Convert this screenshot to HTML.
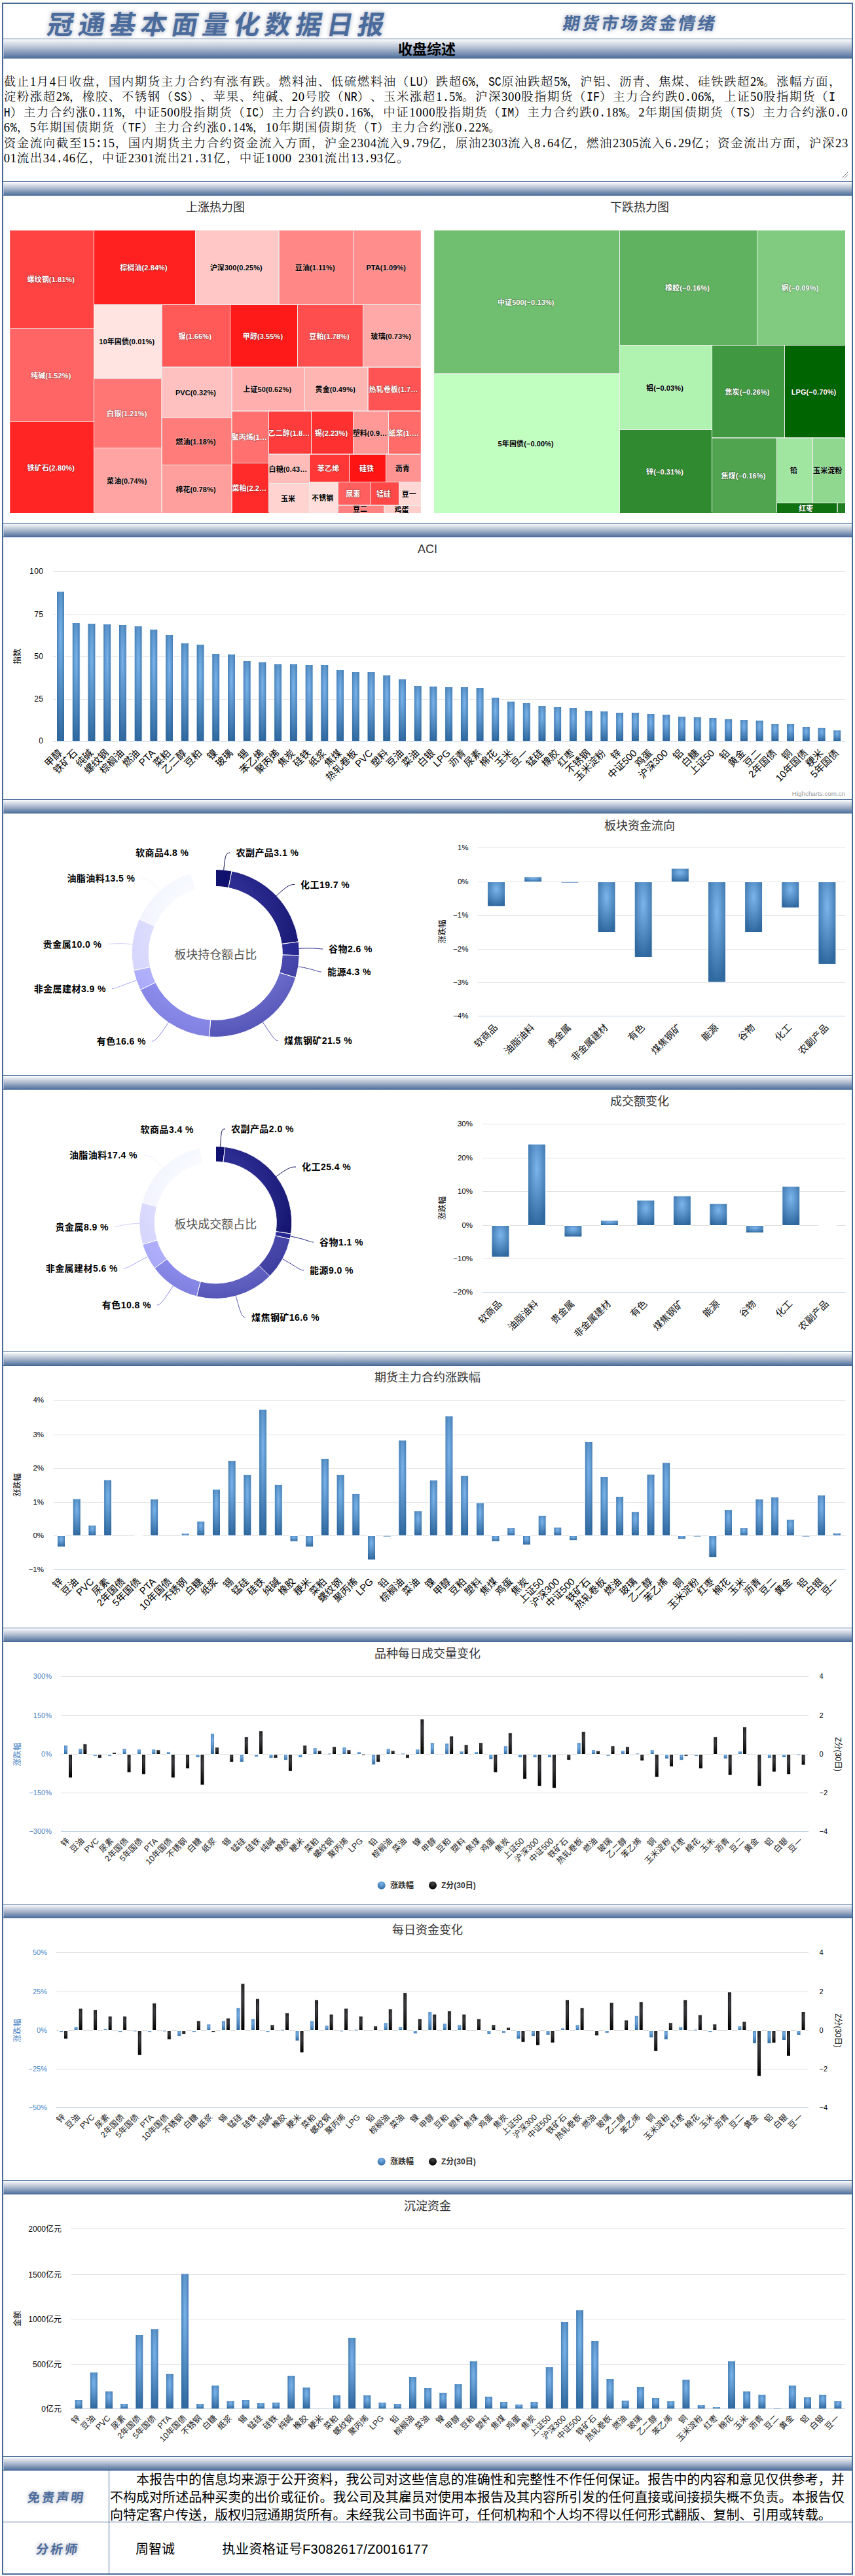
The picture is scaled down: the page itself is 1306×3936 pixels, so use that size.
<!DOCTYPE html>
<html lang="zh-CN"><head><meta charset="utf-8"><title>冠通基本面量化数据日报</title>
<style>
html,body{margin:0;padding:0;background:#fff}
body{width:1306px;height:3936px;position:relative;overflow:hidden;font-family:"Liberation Sans","Noto Sans CJK SC",sans-serif;text-spacing-trim:space-all}
svg{position:absolute;left:0;top:0;font-family:"Liberation Sans","Noto Sans CJK SC",sans-serif}
.t1,.t2,.cal{position:absolute;font-family:"Liberation Sans","Noto Sans CJK SC",sans-serif;font-weight:900;color:#4a6b9c;white-space:nowrap;text-shadow:0 0 5px #b9bfcc,0 0 9px #cfd3dc}
.t1{left:73px;top:11.5px;font-weight:700;height:53px;line-height:53px;font-size:40px;letter-spacing:7.4px;transform:skewX(-10deg)}
.t2{left:860px;top:12.5px;font-weight:700;height:46px;line-height:46px;font-size:26px;letter-spacing:3.4px;transform:skewX(-10deg)}
.h1{position:absolute;left:5px;width:1294px;top:61.5px;height:28px;line-height:28px;text-align:center;font-size:22px;font-weight:bold;color:#000}
.tl{position:absolute;left:5.8px;height:23.5px;line-height:23.5px;font-family:"Liberation Serif","Noto Serif CJK SC",serif;font-size:18.5px;letter-spacing:1.5px;font-weight:300;color:#000;white-space:pre}
.tl .a{font-family:"Liberation Mono",monospace;font-size:16.667px;letter-spacing:0;font-weight:400;display:inline-block;transform:scaleY(1.22);transform-origin:50% 72%}
.tl .d{font-size:18.6px;letter-spacing:0.7px;font-weight:400}
.dl{position:absolute;height:27px;line-height:27px;font-size:20.05px;color:#000;white-space:nowrap}
.cal.c1{left:6px;width:160px;top:3778px;height:78px;line-height:78px;text-align:center;font-size:19px;letter-spacing:3px;font-weight:700;transform:skewX(-8deg)}
.cal.c2{left:8px;width:160px;top:3856.5px;height:78px;line-height:78px;text-align:center;font-size:19px;letter-spacing:3px;font-weight:700;transform:skewX(-8deg)}
.an{position:absolute;top:3855.5px;height:78px;line-height:78px;font-size:20px;color:#000;white-space:nowrap}
.grip{position:absolute;left:1285px;top:262px;width:12px;height:12px}
</style></head><body>
<svg width="1306" height="3936" viewBox="0 0 1306 3936"><defs><linearGradient id="gbar" x1="0" y1="0" x2="0" y2="1"><stop offset="0" stop-color="#f5f6f9"/><stop offset="0.5" stop-color="#a7b5cb"/><stop offset="1" stop-color="#4d6e9b"/></linearGradient><radialGradient id="gblue" cx="0.5" cy="0.3" r="0.7"><stop offset="0" stop-color="#7cb5ec"/><stop offset="1" stop-color="#3069a0"/></radialGradient><radialGradient id="gblack" cx="0.5" cy="0.3" r="0.7"><stop offset="0" stop-color="#434348"/><stop offset="1" stop-color="#000000"/></radialGradient><radialGradient id="p1456_0" gradientUnits="userSpaceOnUse" cx="329.3" cy="1405.3" r="179.2"><stop offset="0.35" stop-color="#111170"/><stop offset="1" stop-color="#04044c"/></radialGradient><radialGradient id="p1456_1" gradientUnits="userSpaceOnUse" cx="329.3" cy="1405.3" r="179.2"><stop offset="0.35" stop-color="#2c2c92"/><stop offset="1" stop-color="#0a0a5e"/></radialGradient><radialGradient id="p1456_2" gradientUnits="userSpaceOnUse" cx="329.3" cy="1405.3" r="179.2"><stop offset="0.35" stop-color="#3a3aa6"/><stop offset="1" stop-color="#1c1c84"/></radialGradient><radialGradient id="p1456_3" gradientUnits="userSpaceOnUse" cx="329.3" cy="1405.3" r="179.2"><stop offset="0.35" stop-color="#5a5ac0"/><stop offset="1" stop-color="#3a3a9c"/></radialGradient><radialGradient id="p1456_4" gradientUnits="userSpaceOnUse" cx="329.3" cy="1405.3" r="179.2"><stop offset="0.35" stop-color="#8888e2"/><stop offset="1" stop-color="#5555b8"/></radialGradient><radialGradient id="p1456_5" gradientUnits="userSpaceOnUse" cx="329.3" cy="1405.3" r="179.2"><stop offset="0.35" stop-color="#a0a0ff"/><stop offset="1" stop-color="#8080e0"/></radialGradient><radialGradient id="p1456_6" gradientUnits="userSpaceOnUse" cx="329.3" cy="1405.3" r="179.2"><stop offset="0.35" stop-color="#c0c0ff"/><stop offset="1" stop-color="#a4a4f8"/></radialGradient><radialGradient id="p1456_7" gradientUnits="userSpaceOnUse" cx="329.3" cy="1405.3" r="179.2"><stop offset="0.35" stop-color="#e2e2ff"/><stop offset="1" stop-color="#d0d0fc"/></radialGradient><radialGradient id="p1456_8" gradientUnits="userSpaceOnUse" cx="329.3" cy="1405.3" r="179.2"><stop offset="0.35" stop-color="#f8faff"/><stop offset="1" stop-color="#ececff"/></radialGradient><radialGradient id="p1456_9" gradientUnits="userSpaceOnUse" cx="329.3" cy="1405.3" r="179.2"><stop offset="0.35" stop-color="#ffffff"/><stop offset="1" stop-color="#ffffff"/></radialGradient><radialGradient id="p1868_0" gradientUnits="userSpaceOnUse" cx="329.3" cy="1821.4" r="163.1"><stop offset="0.35" stop-color="#111170"/><stop offset="1" stop-color="#04044c"/></radialGradient><radialGradient id="p1868_1" gradientUnits="userSpaceOnUse" cx="329.3" cy="1821.4" r="163.1"><stop offset="0.35" stop-color="#2c2c92"/><stop offset="1" stop-color="#0a0a5e"/></radialGradient><radialGradient id="p1868_2" gradientUnits="userSpaceOnUse" cx="329.3" cy="1821.4" r="163.1"><stop offset="0.35" stop-color="#3a3aa6"/><stop offset="1" stop-color="#1c1c84"/></radialGradient><radialGradient id="p1868_3" gradientUnits="userSpaceOnUse" cx="329.3" cy="1821.4" r="163.1"><stop offset="0.35" stop-color="#5a5ac0"/><stop offset="1" stop-color="#3a3a9c"/></radialGradient><radialGradient id="p1868_4" gradientUnits="userSpaceOnUse" cx="329.3" cy="1821.4" r="163.1"><stop offset="0.35" stop-color="#8888e2"/><stop offset="1" stop-color="#5555b8"/></radialGradient><radialGradient id="p1868_5" gradientUnits="userSpaceOnUse" cx="329.3" cy="1821.4" r="163.1"><stop offset="0.35" stop-color="#a0a0ff"/><stop offset="1" stop-color="#8080e0"/></radialGradient><radialGradient id="p1868_6" gradientUnits="userSpaceOnUse" cx="329.3" cy="1821.4" r="163.1"><stop offset="0.35" stop-color="#c0c0ff"/><stop offset="1" stop-color="#a4a4f8"/></radialGradient><radialGradient id="p1868_7" gradientUnits="userSpaceOnUse" cx="329.3" cy="1821.4" r="163.1"><stop offset="0.35" stop-color="#e2e2ff"/><stop offset="1" stop-color="#d0d0fc"/></radialGradient><radialGradient id="p1868_8" gradientUnits="userSpaceOnUse" cx="329.3" cy="1821.4" r="163.1"><stop offset="0.35" stop-color="#f8faff"/><stop offset="1" stop-color="#ececff"/></radialGradient><radialGradient id="p1868_9" gradientUnits="userSpaceOnUse" cx="329.3" cy="1821.4" r="163.1"><stop offset="0.35" stop-color="#ffffff"/><stop offset="1" stop-color="#ffffff"/></radialGradient><clipPath id="tmc1"><rect x="15.5" y="352.5" width="627" height="430.5"/></clipPath><clipPath id="tmc2"><rect x="663.5" y="352.5" width="626.5" height="430.5"/></clipPath></defs>
<rect x="3" y="4" width="1300" height="2" fill="#486a99"/>
<rect x="3" y="3932" width="1300" height="2" fill="#486a99"/>
<rect x="3" y="4" width="2" height="3930" fill="#486a99"/>
<rect x="1301" y="4" width="2" height="3930" fill="#486a99"/>
<rect x="5" y="59" width="1296" height="1" fill="#486a99"/>
<rect x="5.5" y="61" width="1295.5" height="28" fill="url(#gbar)"/>
<rect x="5" y="88.5" width="1296" height="1" fill="#486a99"/>
<rect x="5" y="277" width="1296" height="1" fill="#486a99"/>
<rect x="5.5" y="279" width="1295.5" height="19.5" fill="url(#gbar)"/>
<rect x="5" y="298" width="1296" height="1" fill="#486a99"/>
<rect x="5" y="799" width="1296" height="1" fill="#486a99"/>
<rect x="5.5" y="801" width="1295.5" height="19.5" fill="url(#gbar)"/>
<rect x="5" y="820" width="1296" height="1" fill="#486a99"/>
<rect x="5" y="1221" width="1296" height="1" fill="#486a99"/>
<rect x="5.5" y="1223" width="1295.5" height="19.5" fill="url(#gbar)"/>
<rect x="5" y="1242" width="1296" height="1" fill="#486a99"/>
<rect x="5" y="1643" width="1296" height="1" fill="#486a99"/>
<rect x="5.5" y="1645" width="1295.5" height="19.5" fill="url(#gbar)"/>
<rect x="5" y="1664" width="1296" height="1" fill="#486a99"/>
<rect x="5" y="2065" width="1296" height="1" fill="#486a99"/>
<rect x="5.5" y="2067" width="1295.5" height="19.5" fill="url(#gbar)"/>
<rect x="5" y="2086" width="1296" height="1" fill="#486a99"/>
<rect x="5" y="2487" width="1296" height="1" fill="#486a99"/>
<rect x="5.5" y="2489" width="1295.5" height="19.5" fill="url(#gbar)"/>
<rect x="5" y="2508" width="1296" height="1" fill="#486a99"/>
<rect x="5" y="2909" width="1296" height="1" fill="#486a99"/>
<rect x="5.5" y="2911" width="1295.5" height="19.5" fill="url(#gbar)"/>
<rect x="5" y="2930" width="1296" height="1" fill="#486a99"/>
<rect x="5" y="3331" width="1296" height="1" fill="#486a99"/>
<rect x="5.5" y="3333" width="1295.5" height="19.5" fill="url(#gbar)"/>
<rect x="5" y="3352" width="1296" height="1" fill="#486a99"/>
<rect x="5" y="3753" width="1296" height="1" fill="#486a99"/>
<rect x="5.5" y="3755" width="1295.5" height="19.5" fill="url(#gbar)"/>
<rect x="5" y="3774" width="1296" height="1" fill="#486a99"/>
<rect x="5" y="3853" width="1296" height="1" fill="#486a99"/>
<rect x="166" y="3775" width="1" height="157" fill="#486a99"/>
<text x="329" y="322.5" font-size="18" fill="#333" text-anchor="middle">上涨热力图</text>
<text x="977" y="322.5" font-size="18" fill="#333" text-anchor="middle">下跌热力图</text>
<g shape-rendering="crispEdges"><rect x="15" y="352" width="128.5" height="149.5" fill="#ff4242"/><rect x="15" y="501.5" width="128.5" height="143" fill="#ff6564"/><rect x="15" y="644.5" width="128.5" height="139" fill="#ff2525"/><rect x="143.5" y="352" width="155" height="113.5" fill="#ff201f"/><rect x="298.5" y="352" width="127.5" height="113.5" fill="#ffc7c5"/><rect x="426" y="352" width="113.5" height="113.5" fill="#ff8886"/><rect x="539.5" y="352" width="103.5" height="113.5" fill="#ff8d8c"/><rect x="143.5" y="465.5" width="103.5" height="112.5" fill="#ffe4e1"/><rect x="143.5" y="578" width="103.5" height="106.5" fill="#ff7675"/><rect x="143.5" y="684.5" width="103.5" height="99" fill="#ffa4a2"/><rect x="247" y="465.5" width="104.5" height="95.5" fill="#ff5958"/><rect x="351.5" y="465.5" width="103" height="95.5" fill="#ff1a1a"/><rect x="454.5" y="465.5" width="100" height="95.5" fill="#ff4e4d"/><rect x="554.5" y="465.5" width="88.5" height="95.5" fill="#ffaaa8"/><rect x="247" y="561" width="107" height="77.5" fill="#ffc1bf"/><rect x="247" y="638.5" width="107" height="72" fill="#ff7c7a"/><rect x="247" y="710.5" width="107" height="73" fill="#ff9f9d"/><rect x="354" y="561" width="111.5" height="67" fill="#ffb0ae"/><rect x="465.5" y="561" width="96.5" height="67" fill="#ffb6b3"/><rect x="562" y="561" width="81" height="67" fill="#ff5453"/><rect x="354" y="628" width="56.5" height="79.5" fill="#ff706f"/><rect x="354" y="707.5" width="56.5" height="76" fill="#ff2b2b"/><rect x="410.5" y="628" width="65" height="66" fill="#ff3c3c"/><rect x="475.5" y="628" width="64" height="66" fill="#ff3130"/><rect x="539.5" y="628" width="54" height="66" fill="#ff9997"/><rect x="593.5" y="628" width="49.5" height="66" fill="#ff6b69"/><rect x="410.5" y="694" width="62" height="44.5" fill="#ffbcb9"/><rect x="410.5" y="738.5" width="62" height="45" fill="#ffd3d0"/><rect x="472.5" y="694" width="61" height="42.5" fill="#ff3736"/><rect x="533.5" y="694" width="56" height="42.5" fill="#ff1414"/><rect x="589.5" y="694" width="53.5" height="42.5" fill="#ff9391"/><rect x="472.5" y="736.5" width="43.5" height="47" fill="#ffdedb"/><rect x="516" y="736.5" width="49.5" height="35.5" fill="#ff5f5e"/><rect x="565.5" y="736.5" width="44" height="35.5" fill="#ff4847"/><rect x="609.5" y="736.5" width="33.5" height="36" fill="#ffd8d6"/><rect x="516" y="772" width="71" height="11.5" fill="#ff8280"/><rect x="587" y="772.5" width="56" height="11" fill="#ffcdca"/></g>
<g clip-path="url(#tmc1)" fill="none" stroke="#ececec" stroke-width="1"><rect x="15" y="352" width="128.5" height="149.5"/><rect x="15" y="501.5" width="128.5" height="143"/><rect x="15" y="644.5" width="128.5" height="139"/><rect x="143.5" y="352" width="155" height="113.5"/><rect x="298.5" y="352" width="127.5" height="113.5"/><rect x="426" y="352" width="113.5" height="113.5"/><rect x="539.5" y="352" width="103.5" height="113.5"/><rect x="143.5" y="465.5" width="103.5" height="112.5"/><rect x="143.5" y="578" width="103.5" height="106.5"/><rect x="143.5" y="684.5" width="103.5" height="99"/><rect x="247" y="465.5" width="104.5" height="95.5"/><rect x="351.5" y="465.5" width="103" height="95.5"/><rect x="454.5" y="465.5" width="100" height="95.5"/><rect x="554.5" y="465.5" width="88.5" height="95.5"/><rect x="247" y="561" width="107" height="77.5"/><rect x="247" y="638.5" width="107" height="72"/><rect x="247" y="710.5" width="107" height="73"/><rect x="354" y="561" width="111.5" height="67"/><rect x="465.5" y="561" width="96.5" height="67"/><rect x="562" y="561" width="81" height="67"/><rect x="354" y="628" width="56.5" height="79.5"/><rect x="354" y="707.5" width="56.5" height="76"/><rect x="410.5" y="628" width="65" height="66"/><rect x="475.5" y="628" width="64" height="66"/><rect x="539.5" y="628" width="54" height="66"/><rect x="593.5" y="628" width="49.5" height="66"/><rect x="410.5" y="694" width="62" height="44.5"/><rect x="410.5" y="738.5" width="62" height="45"/><rect x="472.5" y="694" width="61" height="42.5"/><rect x="533.5" y="694" width="56" height="42.5"/><rect x="589.5" y="694" width="53.5" height="42.5"/><rect x="472.5" y="736.5" width="43.5" height="47"/><rect x="516" y="736.5" width="49.5" height="35.5"/><rect x="565.5" y="736.5" width="44" height="35.5"/><rect x="609.5" y="736.5" width="33.5" height="36"/><rect x="516" y="772" width="71" height="11.5"/><rect x="587" y="772.5" width="56" height="11"/></g>
<text x="77.75" y="431.45" font-size="11" fill="#fff" text-anchor="middle" font-weight="bold" stroke="#000" stroke-opacity="0.3" stroke-width="1.4" paint-order="stroke" stroke-linejoin="round" letter-spacing="0.1">螺纹钢(1.81%)</text>
<text x="77.75" y="577.7" font-size="11" fill="#fff" text-anchor="middle" font-weight="bold" stroke="#000" stroke-opacity="0.3" stroke-width="1.4" paint-order="stroke" stroke-linejoin="round" letter-spacing="0.1">纯碱(1.52%)</text>
<text x="77.75" y="718.7" font-size="11" fill="#fff" text-anchor="middle" font-weight="bold" stroke="#000" stroke-opacity="0.3" stroke-width="1.4" paint-order="stroke" stroke-linejoin="round" letter-spacing="0.1">铁矿石(2.80%)</text>
<text x="219.5" y="413.45" font-size="11" fill="#fff" text-anchor="middle" font-weight="bold" stroke="#000" stroke-opacity="0.3" stroke-width="1.4" paint-order="stroke" stroke-linejoin="round" letter-spacing="0.1">棕榈油(2.84%)</text>
<text x="360.75" y="413.45" font-size="11" fill="#000" text-anchor="middle" font-weight="bold" stroke="#fff" stroke-opacity="0.3" stroke-width="1.4" paint-order="stroke" stroke-linejoin="round" letter-spacing="0.1">沪深300(0.25%)</text>
<text x="481.25" y="413.45" font-size="11" fill="#000" text-anchor="middle" font-weight="bold" stroke="#fff" stroke-opacity="0.3" stroke-width="1.4" paint-order="stroke" stroke-linejoin="round" letter-spacing="0.1">豆油(1.11%)</text>
<text x="589.75" y="413.45" font-size="11" fill="#000" text-anchor="middle" font-weight="bold" stroke="#fff" stroke-opacity="0.3" stroke-width="1.4" paint-order="stroke" stroke-linejoin="round" letter-spacing="0.1">PTA(1.09%)</text>
<text x="193.75" y="526.45" font-size="11" fill="#000" text-anchor="middle" font-weight="bold" stroke="#fff" stroke-opacity="0.3" stroke-width="1.4" paint-order="stroke" stroke-linejoin="round" letter-spacing="0.1">10年国债(0.01%)</text>
<text x="193.75" y="635.95" font-size="11" fill="#fff" text-anchor="middle" font-weight="bold" stroke="#000" stroke-opacity="0.3" stroke-width="1.4" paint-order="stroke" stroke-linejoin="round" letter-spacing="0.1">白银(1.21%)</text>
<text x="193.75" y="738.7" font-size="11" fill="#000" text-anchor="middle" font-weight="bold" stroke="#fff" stroke-opacity="0.3" stroke-width="1.4" paint-order="stroke" stroke-linejoin="round" letter-spacing="0.1">菜油(0.74%)</text>
<text x="297.75" y="517.95" font-size="11" fill="#fff" text-anchor="middle" font-weight="bold" stroke="#000" stroke-opacity="0.3" stroke-width="1.4" paint-order="stroke" stroke-linejoin="round" letter-spacing="0.1">镍(1.66%)</text>
<text x="401.5" y="517.95" font-size="11" fill="#fff" text-anchor="middle" font-weight="bold" stroke="#000" stroke-opacity="0.3" stroke-width="1.4" paint-order="stroke" stroke-linejoin="round" letter-spacing="0.1">甲醇(3.55%)</text>
<text x="503" y="517.95" font-size="11" fill="#fff" text-anchor="middle" font-weight="bold" stroke="#000" stroke-opacity="0.3" stroke-width="1.4" paint-order="stroke" stroke-linejoin="round" letter-spacing="0.1">豆粕(1.78%)</text>
<text x="597.25" y="517.95" font-size="11" fill="#000" text-anchor="middle" font-weight="bold" stroke="#fff" stroke-opacity="0.3" stroke-width="1.4" paint-order="stroke" stroke-linejoin="round" letter-spacing="0.1">玻璃(0.73%)</text>
<text x="299" y="604.45" font-size="11" fill="#000" text-anchor="middle" font-weight="bold" stroke="#fff" stroke-opacity="0.3" stroke-width="1.4" paint-order="stroke" stroke-linejoin="round" letter-spacing="0.1">PVC(0.32%)</text>
<text x="299" y="679.2" font-size="11" fill="#000" text-anchor="middle" font-weight="bold" stroke="#fff" stroke-opacity="0.3" stroke-width="1.4" paint-order="stroke" stroke-linejoin="round" letter-spacing="0.1">燃油(1.18%)</text>
<text x="299" y="751.7" font-size="11" fill="#000" text-anchor="middle" font-weight="bold" stroke="#fff" stroke-opacity="0.3" stroke-width="1.4" paint-order="stroke" stroke-linejoin="round" letter-spacing="0.1">棉花(0.78%)</text>
<text x="408.25" y="599.2" font-size="11" fill="#000" text-anchor="middle" font-weight="bold" stroke="#fff" stroke-opacity="0.3" stroke-width="1.4" paint-order="stroke" stroke-linejoin="round" letter-spacing="0.1">上证50(0.62%)</text>
<text x="512.25" y="599.2" font-size="11" fill="#000" text-anchor="middle" font-weight="bold" stroke="#fff" stroke-opacity="0.3" stroke-width="1.4" paint-order="stroke" stroke-linejoin="round" letter-spacing="0.1">黄金(0.49%)</text>
<text x="601" y="599.2" font-size="11" fill="#fff" text-anchor="middle" font-weight="bold" stroke="#000" stroke-opacity="0.3" stroke-width="1.4" paint-order="stroke" stroke-linejoin="round" letter-spacing="0.1">热轧卷板(1.7…</text>
<text x="380.75" y="672.45" font-size="11" fill="#fff" text-anchor="middle" font-weight="bold" stroke="#000" stroke-opacity="0.3" stroke-width="1.4" paint-order="stroke" stroke-linejoin="round" letter-spacing="0.1">聚丙烯(1…</text>
<text x="380.75" y="750.2" font-size="11" fill="#fff" text-anchor="middle" font-weight="bold" stroke="#000" stroke-opacity="0.3" stroke-width="1.4" paint-order="stroke" stroke-linejoin="round" letter-spacing="0.1">菜粕(2.2…</text>
<text x="441.5" y="665.7" font-size="11" fill="#fff" text-anchor="middle" font-weight="bold" stroke="#000" stroke-opacity="0.3" stroke-width="1.4" paint-order="stroke" stroke-linejoin="round" letter-spacing="0.1">乙二醇(1.8…</text>
<text x="506" y="665.7" font-size="11" fill="#fff" text-anchor="middle" font-weight="bold" stroke="#000" stroke-opacity="0.3" stroke-width="1.4" paint-order="stroke" stroke-linejoin="round" letter-spacing="0.1">锡(2.23%)</text>
<text x="565" y="665.7" font-size="11" fill="#000" text-anchor="middle" font-weight="bold" stroke="#fff" stroke-opacity="0.3" stroke-width="1.4" paint-order="stroke" stroke-linejoin="round" letter-spacing="0.1">塑料(0.9…</text>
<text x="616.75" y="665.7" font-size="11" fill="#fff" text-anchor="middle" font-weight="bold" stroke="#000" stroke-opacity="0.3" stroke-width="1.4" paint-order="stroke" stroke-linejoin="round" letter-spacing="0.1">纸浆(1.…</text>
<text x="440" y="720.95" font-size="11" fill="#000" text-anchor="middle" font-weight="bold" stroke="#fff" stroke-opacity="0.3" stroke-width="1.4" paint-order="stroke" stroke-linejoin="round" letter-spacing="0.1">白糖(0.43…</text>
<text x="440" y="765.7" font-size="11" fill="#000" text-anchor="middle" font-weight="bold" stroke="#fff" stroke-opacity="0.3" stroke-width="1.4" paint-order="stroke" stroke-linejoin="round" letter-spacing="0.1">玉米</text>
<text x="501.5" y="719.95" font-size="11" fill="#fff" text-anchor="middle" font-weight="bold" stroke="#000" stroke-opacity="0.3" stroke-width="1.4" paint-order="stroke" stroke-linejoin="round" letter-spacing="0.1">苯乙烯</text>
<text x="560" y="719.95" font-size="11" fill="#fff" text-anchor="middle" font-weight="bold" stroke="#000" stroke-opacity="0.3" stroke-width="1.4" paint-order="stroke" stroke-linejoin="round" letter-spacing="0.1">硅铁</text>
<text x="614.75" y="719.95" font-size="11" fill="#000" text-anchor="middle" font-weight="bold" stroke="#fff" stroke-opacity="0.3" stroke-width="1.4" paint-order="stroke" stroke-linejoin="round" letter-spacing="0.1">沥青</text>
<text x="492.75" y="764.7" font-size="11" fill="#000" text-anchor="middle" font-weight="bold" stroke="#fff" stroke-opacity="0.3" stroke-width="1.4" paint-order="stroke" stroke-linejoin="round" letter-spacing="0.1">不锈钢</text>
<text x="539.25" y="758.95" font-size="11" fill="#fff" text-anchor="middle" font-weight="bold" stroke="#000" stroke-opacity="0.3" stroke-width="1.4" paint-order="stroke" stroke-linejoin="round" letter-spacing="0.1">尿素</text>
<text x="586" y="758.95" font-size="11" fill="#fff" text-anchor="middle" font-weight="bold" stroke="#000" stroke-opacity="0.3" stroke-width="1.4" paint-order="stroke" stroke-linejoin="round" letter-spacing="0.1">锰硅</text>
<text x="624.75" y="759.2" font-size="11" fill="#000" text-anchor="middle" font-weight="bold" stroke="#fff" stroke-opacity="0.3" stroke-width="1.4" paint-order="stroke" stroke-linejoin="round" letter-spacing="0.1">豆一</text>
<text x="550" y="782.45" font-size="11" fill="#000" text-anchor="middle" font-weight="bold" stroke="#fff" stroke-opacity="0.3" stroke-width="1.4" paint-order="stroke" stroke-linejoin="round" letter-spacing="0.1">豆二</text>
<text x="613.5" y="782.7" font-size="11" fill="#000" text-anchor="middle" font-weight="bold" stroke="#fff" stroke-opacity="0.3" stroke-width="1.4" paint-order="stroke" stroke-linejoin="round" letter-spacing="0.1">鸡蛋</text>
<g shape-rendering="crispEdges"><rect x="663" y="352" width="283.5" height="219" fill="#70be70"/><rect x="663" y="571" width="283.5" height="212.5" fill="#c0ffc0"/><rect x="946.5" y="352" width="210" height="175.5" fill="#60b160"/><rect x="1156.5" y="352" width="134" height="175.5" fill="#80cb80"/><rect x="946.5" y="527.5" width="141" height="129" fill="#b0f2b0"/><rect x="946.5" y="656.5" width="141" height="127" fill="#308b30"/><rect x="1087.5" y="527.5" width="111" height="141.5" fill="#409840"/><rect x="1198.5" y="527.5" width="92" height="141.5" fill="#006400"/><rect x="1087.5" y="669" width="99" height="114.5" fill="#50a450"/><rect x="1186.5" y="669" width="54.5" height="99.5" fill="#a0e5a0"/><rect x="1241" y="669" width="49.5" height="99.5" fill="#90d890"/><rect x="1186.5" y="768.5" width="92.5" height="15" fill="#107110"/><rect x="1279" y="768.5" width="11.5" height="15" fill="#207e20"/></g>
<g clip-path="url(#tmc2)" fill="none" stroke="#ececec" stroke-width="1"><rect x="663" y="352" width="283.5" height="219"/><rect x="663" y="571" width="283.5" height="212.5"/><rect x="946.5" y="352" width="210" height="175.5"/><rect x="1156.5" y="352" width="134" height="175.5"/><rect x="946.5" y="527.5" width="141" height="129"/><rect x="946.5" y="656.5" width="141" height="127"/><rect x="1087.5" y="527.5" width="111" height="141.5"/><rect x="1198.5" y="527.5" width="92" height="141.5"/><rect x="1087.5" y="669" width="99" height="114.5"/><rect x="1186.5" y="669" width="54.5" height="99.5"/><rect x="1241" y="669" width="49.5" height="99.5"/><rect x="1186.5" y="768.5" width="92.5" height="15"/><rect x="1279" y="768.5" width="11.5" height="15"/></g>
<text x="803.25" y="466.2" font-size="11" fill="#fff" text-anchor="middle" font-weight="bold" stroke="#000" stroke-opacity="0.3" stroke-width="1.4" paint-order="stroke" stroke-linejoin="round" letter-spacing="0.1">中证500(−0.13%)</text>
<text x="803.25" y="681.95" font-size="11" fill="#000" text-anchor="middle" font-weight="bold" stroke="#fff" stroke-opacity="0.3" stroke-width="1.4" paint-order="stroke" stroke-linejoin="round" letter-spacing="0.1">5年国债(−0.00%)</text>
<text x="1050" y="444.45" font-size="11" fill="#fff" text-anchor="middle" font-weight="bold" stroke="#000" stroke-opacity="0.3" stroke-width="1.4" paint-order="stroke" stroke-linejoin="round" letter-spacing="0.1">橡胶(−0.16%)</text>
<text x="1222" y="444.45" font-size="11" fill="#fff" text-anchor="middle" font-weight="bold" stroke="#000" stroke-opacity="0.3" stroke-width="1.4" paint-order="stroke" stroke-linejoin="round" letter-spacing="0.1">铜(−0.09%)</text>
<text x="1015.5" y="596.7" font-size="11" fill="#000" text-anchor="middle" font-weight="bold" stroke="#fff" stroke-opacity="0.3" stroke-width="1.4" paint-order="stroke" stroke-linejoin="round" letter-spacing="0.1">铝(−0.03%)</text>
<text x="1015.5" y="724.7" font-size="11" fill="#fff" text-anchor="middle" font-weight="bold" stroke="#000" stroke-opacity="0.3" stroke-width="1.4" paint-order="stroke" stroke-linejoin="round" letter-spacing="0.1">锌(−0.31%)</text>
<text x="1141.5" y="602.95" font-size="11" fill="#fff" text-anchor="middle" font-weight="bold" stroke="#000" stroke-opacity="0.3" stroke-width="1.4" paint-order="stroke" stroke-linejoin="round" letter-spacing="0.1">焦炭(−0.26%)</text>
<text x="1243" y="602.95" font-size="11" fill="#fff" text-anchor="middle" font-weight="bold" stroke="#000" stroke-opacity="0.3" stroke-width="1.4" paint-order="stroke" stroke-linejoin="round" letter-spacing="0.1">LPG(−0.70%)</text>
<text x="1135.5" y="730.95" font-size="11" fill="#fff" text-anchor="middle" font-weight="bold" stroke="#000" stroke-opacity="0.3" stroke-width="1.4" paint-order="stroke" stroke-linejoin="round" letter-spacing="0.1">焦煤(−0.16%)</text>
<text x="1212.25" y="723.45" font-size="11" fill="#000" text-anchor="middle" font-weight="bold" stroke="#fff" stroke-opacity="0.3" stroke-width="1.4" paint-order="stroke" stroke-linejoin="round" letter-spacing="0.1">铅</text>
<text x="1264.25" y="723.45" font-size="11" fill="#000" text-anchor="middle" font-weight="bold" stroke="#fff" stroke-opacity="0.3" stroke-width="1.4" paint-order="stroke" stroke-linejoin="round" letter-spacing="0.1">玉米淀粉</text>
<text x="1231.25" y="780.7" font-size="11" fill="#fff" text-anchor="middle" font-weight="bold" stroke="#000" stroke-opacity="0.3" stroke-width="1.4" paint-order="stroke" stroke-linejoin="round" letter-spacing="0.1">红枣</text>
<text x="653" y="845" font-size="18" fill="#333" text-anchor="middle">ACI</text>
<path d="M80.5 873.5H1291.5" stroke="#e0e0e0" stroke-width="1" fill="none"/>
<path d="M80.5 939.5H1291.5" stroke="#e0e0e0" stroke-width="1" fill="none"/>
<path d="M80.5 1003.5H1291.5" stroke="#e0e0e0" stroke-width="1" fill="none"/>
<path d="M80.5 1068.5H1291.5" stroke="#e0e0e0" stroke-width="1" fill="none"/>
<text x="66.5" y="877" font-size="12" fill="#000" text-anchor="end" letter-spacing="0.5">100</text>
<text x="66.5" y="943" font-size="12" fill="#000" text-anchor="end" letter-spacing="0.5">75</text>
<text x="66.5" y="1007" font-size="12" fill="#000" text-anchor="end" letter-spacing="0.5">50</text>
<text x="66.5" y="1072" font-size="12" fill="#000" text-anchor="end" letter-spacing="0.5">25</text>
<text x="66.5" y="1136" font-size="12" fill="#000" text-anchor="end" letter-spacing="0.5">0</text>
<text x="31" y="1003" font-size="12" fill="#000" text-anchor="middle" transform="rotate(-90 31 1003)">指数</text>
<rect x="86.5" y="903.5" width="12" height="229" fill="url(#gblue)" stroke="#fff" stroke-width="1"/>
<rect x="110.23" y="951.5" width="12" height="181" fill="url(#gblue)" stroke="#fff" stroke-width="1"/>
<rect x="133.95" y="952.5" width="12" height="180" fill="url(#gblue)" stroke="#fff" stroke-width="1"/>
<rect x="157.68" y="953.5" width="12" height="179" fill="url(#gblue)" stroke="#fff" stroke-width="1"/>
<rect x="181.4" y="954.5" width="12" height="178" fill="url(#gblue)" stroke="#fff" stroke-width="1"/>
<rect x="205.13" y="956.5" width="12" height="176" fill="url(#gblue)" stroke="#fff" stroke-width="1"/>
<rect x="228.85" y="961.5" width="12" height="171" fill="url(#gblue)" stroke="#fff" stroke-width="1"/>
<rect x="252.58" y="969.5" width="12" height="163" fill="url(#gblue)" stroke="#fff" stroke-width="1"/>
<rect x="276.3" y="982.5" width="12" height="150" fill="url(#gblue)" stroke="#fff" stroke-width="1"/>
<rect x="300.03" y="984.5" width="12" height="148" fill="url(#gblue)" stroke="#fff" stroke-width="1"/>
<rect x="323.75" y="998.5" width="12" height="134" fill="url(#gblue)" stroke="#fff" stroke-width="1"/>
<rect x="347.48" y="999.5" width="12" height="133" fill="url(#gblue)" stroke="#fff" stroke-width="1"/>
<rect x="371.2" y="1009.5" width="12" height="123" fill="url(#gblue)" stroke="#fff" stroke-width="1"/>
<rect x="394.93" y="1011.5" width="12" height="121" fill="url(#gblue)" stroke="#fff" stroke-width="1"/>
<rect x="418.65" y="1014.5" width="12" height="118" fill="url(#gblue)" stroke="#fff" stroke-width="1"/>
<rect x="442.38" y="1014.5" width="12" height="118" fill="url(#gblue)" stroke="#fff" stroke-width="1"/>
<rect x="466.1" y="1015.5" width="12" height="117" fill="url(#gblue)" stroke="#fff" stroke-width="1"/>
<rect x="489.83" y="1015.5" width="12" height="117" fill="url(#gblue)" stroke="#fff" stroke-width="1"/>
<rect x="513.55" y="1023.5" width="12" height="109" fill="url(#gblue)" stroke="#fff" stroke-width="1"/>
<rect x="537.28" y="1026.5" width="12" height="106" fill="url(#gblue)" stroke="#fff" stroke-width="1"/>
<rect x="561" y="1026.5" width="12" height="106" fill="url(#gblue)" stroke="#fff" stroke-width="1"/>
<rect x="584.73" y="1031.5" width="12" height="101" fill="url(#gblue)" stroke="#fff" stroke-width="1"/>
<rect x="608.45" y="1037.5" width="12" height="95" fill="url(#gblue)" stroke="#fff" stroke-width="1"/>
<rect x="632.18" y="1047.5" width="12" height="85" fill="url(#gblue)" stroke="#fff" stroke-width="1"/>
<rect x="655.9" y="1048.5" width="12" height="84" fill="url(#gblue)" stroke="#fff" stroke-width="1"/>
<rect x="679.63" y="1049.5" width="12" height="83" fill="url(#gblue)" stroke="#fff" stroke-width="1"/>
<rect x="703.35" y="1049.5" width="12" height="83" fill="url(#gblue)" stroke="#fff" stroke-width="1"/>
<rect x="727.08" y="1050.5" width="12" height="82" fill="url(#gblue)" stroke="#fff" stroke-width="1"/>
<rect x="750.8" y="1065.5" width="12" height="67" fill="url(#gblue)" stroke="#fff" stroke-width="1"/>
<rect x="774.53" y="1071.5" width="12" height="61" fill="url(#gblue)" stroke="#fff" stroke-width="1"/>
<rect x="798.25" y="1073.5" width="12" height="59" fill="url(#gblue)" stroke="#fff" stroke-width="1"/>
<rect x="821.98" y="1078.5" width="12" height="54" fill="url(#gblue)" stroke="#fff" stroke-width="1"/>
<rect x="845.7" y="1079.5" width="12" height="53" fill="url(#gblue)" stroke="#fff" stroke-width="1"/>
<rect x="869.43" y="1081.5" width="12" height="51" fill="url(#gblue)" stroke="#fff" stroke-width="1"/>
<rect x="893.15" y="1085.5" width="12" height="47" fill="url(#gblue)" stroke="#fff" stroke-width="1"/>
<rect x="916.88" y="1086.5" width="12" height="46" fill="url(#gblue)" stroke="#fff" stroke-width="1"/>
<rect x="940.6" y="1088.5" width="12" height="44" fill="url(#gblue)" stroke="#fff" stroke-width="1"/>
<rect x="964.33" y="1088.5" width="12" height="44" fill="url(#gblue)" stroke="#fff" stroke-width="1"/>
<rect x="988.05" y="1090.5" width="12" height="42" fill="url(#gblue)" stroke="#fff" stroke-width="1"/>
<rect x="1011.78" y="1091.5" width="12" height="41" fill="url(#gblue)" stroke="#fff" stroke-width="1"/>
<rect x="1035.5" y="1094.5" width="12" height="38" fill="url(#gblue)" stroke="#fff" stroke-width="1"/>
<rect x="1059.23" y="1095.5" width="12" height="37" fill="url(#gblue)" stroke="#fff" stroke-width="1"/>
<rect x="1082.95" y="1096.5" width="12" height="36" fill="url(#gblue)" stroke="#fff" stroke-width="1"/>
<rect x="1106.68" y="1098.5" width="12" height="34" fill="url(#gblue)" stroke="#fff" stroke-width="1"/>
<rect x="1130.4" y="1099.5" width="12" height="33" fill="url(#gblue)" stroke="#fff" stroke-width="1"/>
<rect x="1154.13" y="1100.5" width="12" height="32" fill="url(#gblue)" stroke="#fff" stroke-width="1"/>
<rect x="1177.85" y="1105.5" width="12" height="27" fill="url(#gblue)" stroke="#fff" stroke-width="1"/>
<rect x="1201.58" y="1105.5" width="12" height="27" fill="url(#gblue)" stroke="#fff" stroke-width="1"/>
<rect x="1225.3" y="1110.5" width="12" height="22" fill="url(#gblue)" stroke="#fff" stroke-width="1"/>
<rect x="1249.03" y="1111.5" width="12" height="21" fill="url(#gblue)" stroke="#fff" stroke-width="1"/>
<rect x="1272.75" y="1115.5" width="12" height="17" fill="url(#gblue)" stroke="#fff" stroke-width="1"/>
<text x="95.76" y="1151.5" font-size="15" fill="#000" text-anchor="end" transform="rotate(-45 95.76 1151.5)">甲醇</text>
<text x="119.49" y="1151.5" font-size="15" fill="#000" text-anchor="end" transform="rotate(-45 119.49 1151.5)">铁矿石</text>
<text x="143.21" y="1151.5" font-size="15" fill="#000" text-anchor="end" transform="rotate(-45 143.21 1151.5)">纯碱</text>
<text x="166.94" y="1151.5" font-size="15" fill="#000" text-anchor="end" transform="rotate(-45 166.94 1151.5)">螺纹钢</text>
<text x="190.66" y="1151.5" font-size="15" fill="#000" text-anchor="end" transform="rotate(-45 190.66 1151.5)">棕榈油</text>
<text x="214.39" y="1151.5" font-size="15" fill="#000" text-anchor="end" transform="rotate(-45 214.39 1151.5)">燃油</text>
<text x="238.11" y="1151.5" font-size="15" fill="#000" text-anchor="end" transform="rotate(-45 238.11 1151.5)">PTA</text>
<text x="261.84" y="1151.5" font-size="15" fill="#000" text-anchor="end" transform="rotate(-45 261.84 1151.5)">菜粕</text>
<text x="285.56" y="1151.5" font-size="15" fill="#000" text-anchor="end" transform="rotate(-45 285.56 1151.5)">乙二醇</text>
<text x="309.29" y="1151.5" font-size="15" fill="#000" text-anchor="end" transform="rotate(-45 309.29 1151.5)">豆粕</text>
<text x="333.01" y="1151.5" font-size="15" fill="#000" text-anchor="end" transform="rotate(-45 333.01 1151.5)">镍</text>
<text x="356.74" y="1151.5" font-size="15" fill="#000" text-anchor="end" transform="rotate(-45 356.74 1151.5)">玻璃</text>
<text x="380.46" y="1151.5" font-size="15" fill="#000" text-anchor="end" transform="rotate(-45 380.46 1151.5)">锡</text>
<text x="404.19" y="1151.5" font-size="15" fill="#000" text-anchor="end" transform="rotate(-45 404.19 1151.5)">苯乙烯</text>
<text x="427.91" y="1151.5" font-size="15" fill="#000" text-anchor="end" transform="rotate(-45 427.91 1151.5)">聚丙烯</text>
<text x="451.64" y="1151.5" font-size="15" fill="#000" text-anchor="end" transform="rotate(-45 451.64 1151.5)">焦炭</text>
<text x="475.36" y="1151.5" font-size="15" fill="#000" text-anchor="end" transform="rotate(-45 475.36 1151.5)">硅铁</text>
<text x="499.09" y="1151.5" font-size="15" fill="#000" text-anchor="end" transform="rotate(-45 499.09 1151.5)">纸浆</text>
<text x="522.81" y="1151.5" font-size="15" fill="#000" text-anchor="end" transform="rotate(-45 522.81 1151.5)">焦煤</text>
<text x="546.54" y="1151.5" font-size="15" fill="#000" text-anchor="end" transform="rotate(-45 546.54 1151.5)">热轧卷板</text>
<text x="570.26" y="1151.5" font-size="15" fill="#000" text-anchor="end" transform="rotate(-45 570.26 1151.5)">PVC</text>
<text x="593.99" y="1151.5" font-size="15" fill="#000" text-anchor="end" transform="rotate(-45 593.99 1151.5)">塑料</text>
<text x="617.71" y="1151.5" font-size="15" fill="#000" text-anchor="end" transform="rotate(-45 617.71 1151.5)">豆油</text>
<text x="641.44" y="1151.5" font-size="15" fill="#000" text-anchor="end" transform="rotate(-45 641.44 1151.5)">菜油</text>
<text x="665.16" y="1151.5" font-size="15" fill="#000" text-anchor="end" transform="rotate(-45 665.16 1151.5)">白银</text>
<text x="688.89" y="1151.5" font-size="15" fill="#000" text-anchor="end" transform="rotate(-45 688.89 1151.5)">LPG</text>
<text x="712.61" y="1151.5" font-size="15" fill="#000" text-anchor="end" transform="rotate(-45 712.61 1151.5)">沥青</text>
<text x="736.34" y="1151.5" font-size="15" fill="#000" text-anchor="end" transform="rotate(-45 736.34 1151.5)">尿素</text>
<text x="760.06" y="1151.5" font-size="15" fill="#000" text-anchor="end" transform="rotate(-45 760.06 1151.5)">棉花</text>
<text x="783.79" y="1151.5" font-size="15" fill="#000" text-anchor="end" transform="rotate(-45 783.79 1151.5)">玉米</text>
<text x="807.51" y="1151.5" font-size="15" fill="#000" text-anchor="end" transform="rotate(-45 807.51 1151.5)">豆一</text>
<text x="831.24" y="1151.5" font-size="15" fill="#000" text-anchor="end" transform="rotate(-45 831.24 1151.5)">锰硅</text>
<text x="854.96" y="1151.5" font-size="15" fill="#000" text-anchor="end" transform="rotate(-45 854.96 1151.5)">橡胶</text>
<text x="878.69" y="1151.5" font-size="15" fill="#000" text-anchor="end" transform="rotate(-45 878.69 1151.5)">红枣</text>
<text x="902.41" y="1151.5" font-size="15" fill="#000" text-anchor="end" transform="rotate(-45 902.41 1151.5)">不锈钢</text>
<text x="926.14" y="1151.5" font-size="15" fill="#000" text-anchor="end" transform="rotate(-45 926.14 1151.5)">玉米淀粉</text>
<text x="949.86" y="1151.5" font-size="15" fill="#000" text-anchor="end" transform="rotate(-45 949.86 1151.5)">锌</text>
<text x="973.59" y="1151.5" font-size="15" fill="#000" text-anchor="end" transform="rotate(-45 973.59 1151.5)">中证500</text>
<text x="997.31" y="1151.5" font-size="15" fill="#000" text-anchor="end" transform="rotate(-45 997.31 1151.5)">鸡蛋</text>
<text x="1021.04" y="1151.5" font-size="15" fill="#000" text-anchor="end" transform="rotate(-45 1021.04 1151.5)">沪深300</text>
<text x="1044.76" y="1151.5" font-size="15" fill="#000" text-anchor="end" transform="rotate(-45 1044.76 1151.5)">铝</text>
<text x="1068.49" y="1151.5" font-size="15" fill="#000" text-anchor="end" transform="rotate(-45 1068.49 1151.5)">白糖</text>
<text x="1092.21" y="1151.5" font-size="15" fill="#000" text-anchor="end" transform="rotate(-45 1092.21 1151.5)">上证50</text>
<text x="1115.94" y="1151.5" font-size="15" fill="#000" text-anchor="end" transform="rotate(-45 1115.94 1151.5)">铅</text>
<text x="1139.66" y="1151.5" font-size="15" fill="#000" text-anchor="end" transform="rotate(-45 1139.66 1151.5)">黄金</text>
<text x="1163.39" y="1151.5" font-size="15" fill="#000" text-anchor="end" transform="rotate(-45 1163.39 1151.5)">豆二</text>
<text x="1187.11" y="1151.5" font-size="15" fill="#000" text-anchor="end" transform="rotate(-45 1187.11 1151.5)">2年国债</text>
<text x="1210.84" y="1151.5" font-size="15" fill="#000" text-anchor="end" transform="rotate(-45 1210.84 1151.5)">铜</text>
<text x="1234.56" y="1151.5" font-size="15" fill="#000" text-anchor="end" transform="rotate(-45 1234.56 1151.5)">10年国债</text>
<text x="1258.29" y="1151.5" font-size="15" fill="#000" text-anchor="end" transform="rotate(-45 1258.29 1151.5)">粳米</text>
<text x="1282.01" y="1151.5" font-size="15" fill="#000" text-anchor="end" transform="rotate(-45 1282.01 1151.5)">5年国债</text>
<text x="1291" y="1216" font-size="9.8" fill="#999" text-anchor="end">Highcharts.com.cn</text>
<path d="M80.5 1132.5H1291.5" stroke="#c0d0e0" stroke-width="1" fill="none"/>
<path d="M329.3 1328.5A128 128 0 0 1 354.07 1330.92L349.04 1356.43A102 102 0 0 0 329.3 1354.5Z" fill="url(#p1456_0)" stroke="#fff" stroke-width="1" stroke-linejoin="round"/>
<path d="M354.07 1330.92A128 128 0 0 1 456.08 1438.86L430.33 1442.45A102 102 0 0 0 349.04 1356.43Z" fill="url(#p1456_1)" stroke="#fff" stroke-width="1" stroke-linejoin="round"/>
<path d="M456.08 1438.86A128 128 0 0 1 457.26 1459.72L431.27 1459.06A102 102 0 0 0 430.33 1442.45Z" fill="url(#p1456_2)" stroke="#fff" stroke-width="1" stroke-linejoin="round"/>
<path d="M457.26 1459.72A128 128 0 0 1 451.76 1493.75L426.88 1486.19A102 102 0 0 0 431.27 1459.06Z" fill="url(#p1456_3)" stroke="#fff" stroke-width="1" stroke-linejoin="round"/>
<path d="M451.76 1493.75A128 128 0 0 1 319.66 1584.14L321.62 1558.21A102 102 0 0 0 426.88 1486.19Z" fill="url(#p1456_4)" stroke="#fff" stroke-width="1" stroke-linejoin="round"/>
<path d="M319.66 1584.14A128 128 0 0 1 214.18 1512.45L237.56 1501.09A102 102 0 0 0 321.62 1558.21Z" fill="url(#p1456_5)" stroke="#fff" stroke-width="1" stroke-linejoin="round"/>
<path d="M214.18 1512.45A128 128 0 0 1 204.04 1482.85L229.48 1477.5A102 102 0 0 0 237.56 1501.09Z" fill="url(#p1456_6)" stroke="#fff" stroke-width="1" stroke-linejoin="round"/>
<path d="M204.04 1482.85A128 128 0 0 1 212.48 1404.19L236.21 1414.82A102 102 0 0 0 229.48 1477.5Z" fill="url(#p1456_7)" stroke="#fff" stroke-width="1" stroke-linejoin="round"/>
<path d="M212.48 1404.19A128 128 0 0 1 291.28 1334.28L299 1359.1A102 102 0 0 0 236.21 1414.82Z" fill="url(#p1456_8)" stroke="#fff" stroke-width="1" stroke-linejoin="round"/>
<path d="M291.28 1334.28A128 128 0 0 1 329.3 1328.5L329.3 1354.5A102 102 0 0 0 299 1359.1Z" fill="url(#p1456_9)" stroke="#fff" stroke-width="1" stroke-linejoin="round"/>
<text x="329.3" y="1465" font-size="18" fill="#555" text-anchor="middle">板块持仓额占比</text>
<text x="360.5" y="1308" font-size="14" fill="#000" font-weight="bold" letter-spacing="0.45">农副产品3.1 %</text>
<path d="M351.5 1303C345.5 1303 344.08 1305.22 341.75 1329.11" stroke="#04044c" stroke-width="1" fill="none"/>
<text x="459" y="1356.5" font-size="14" fill="#000" font-weight="bold" letter-spacing="0.45">化工19.7 %</text>
<path d="M450 1351.5C444 1351.5 439.78 1352.1 422.33 1368.59" stroke="#0a0a5e" stroke-width="1" fill="none"/>
<text x="502" y="1455" font-size="14" fill="#000" font-weight="bold" letter-spacing="0.45">谷物2.6 %</text>
<path d="M493 1450C487 1450 481.06 1447.91 457.1 1449.27" stroke="#1c1c84" stroke-width="1" fill="none"/>
<text x="500" y="1490" font-size="14" fill="#000" font-weight="bold" letter-spacing="0.45">能源4.3 %</text>
<path d="M491 1485C485 1485 479.35 1480.75 455.66 1476.92" stroke="#3a3a9c" stroke-width="1" fill="none"/>
<text x="434" y="1595" font-size="14" fill="#000" font-weight="bold" letter-spacing="0.45">煤焦钢矿21.5 %</text>
<path d="M425 1590C419 1590 415.13 1581.95 401.58 1562.14" stroke="#5555b8" stroke-width="1" fill="none"/>
<text x="223" y="1596" font-size="14" fill="#000" text-anchor="end" font-weight="bold" letter-spacing="0.45">有色16.6 %</text>
<path d="M232 1591C238 1591 243.86 1582.22 257.35 1562.37" stroke="#8080e0" stroke-width="1" fill="none"/>
<text x="162" y="1515.5" font-size="14" fill="#000" text-anchor="end" font-weight="bold" letter-spacing="0.45">非金属建材3.9 %</text>
<path d="M171 1510.5C177 1510.5 185.5 1505.74 208.2 1497.96" stroke="#a4a4f8" stroke-width="1" fill="none"/>
<text x="155.5" y="1447.5" font-size="14" fill="#000" text-anchor="end" font-weight="bold" letter-spacing="0.45">贵金属10.0 %</text>
<path d="M164.5 1442.5C170.5 1442.5 178.17 1440.3 202.03 1442.85" stroke="#d0d0fc" stroke-width="1" fill="none"/>
<text x="206.5" y="1346.5" font-size="14" fill="#000" text-anchor="end" font-weight="bold" letter-spacing="0.45">油脂油料13.5 %</text>
<path d="M215.5 1341.5C221.5 1341.5 228.42 1342.8 244.35 1360.75" stroke="#f0f0ff" stroke-width="1" fill="none"/>
<text x="288.5" y="1308" font-size="14" fill="#000" text-anchor="end" font-weight="bold" letter-spacing="0.45">软商品4.8 %</text>
<path d="M297.5 1303C303.5 1303 306.47 1306.22 310.07 1329.95" stroke="#ffffff" stroke-width="1" fill="none"/>
<text x="977" y="1267.5" font-size="18" fill="#333" text-anchor="middle">板块资金流向</text>
<path d="M730 1295.5H1291.5" stroke="#e0e0e0" stroke-width="1" fill="none"/>
<path d="M730 1347.5H1291.5" stroke="#e0e0e0" stroke-width="1" fill="none"/>
<path d="M730 1398.5H1291.5" stroke="#e0e0e0" stroke-width="1" fill="none"/>
<path d="M730 1450.5H1291.5" stroke="#e0e0e0" stroke-width="1" fill="none"/>
<path d="M730 1501.5H1291.5" stroke="#e0e0e0" stroke-width="1" fill="none"/>
<text x="715.5" y="1299" font-size="11.5" fill="#000" text-anchor="end">1%</text>
<text x="715.5" y="1351" font-size="11.5" fill="#000" text-anchor="end">0%</text>
<text x="715.5" y="1402" font-size="11.5" fill="#000" text-anchor="end">−1%</text>
<text x="715.5" y="1454" font-size="11.5" fill="#000" text-anchor="end">−2%</text>
<text x="715.5" y="1505" font-size="11.5" fill="#000" text-anchor="end">−3%</text>
<text x="715.5" y="1556" font-size="11.5" fill="#000" text-anchor="end">−4%</text>
<text x="680" y="1423.5" font-size="12" fill="#000" text-anchor="middle" transform="rotate(-90 680 1423.5)">涨跌幅</text>
<rect x="744.58" y="1347.5" width="27" height="37.35" fill="url(#gblue)" stroke="#fff" stroke-width="1"/>
<rect x="800.73" y="1339.8" width="27" height="7.7" fill="url(#gblue)" stroke="#fff" stroke-width="1"/>
<rect x="856.38" y="1346" width="28" height="3" fill="#fff"/>
<rect x="857.38" y="1347.7" width="26" height="0.9" fill="#3f78b3"/>
<rect x="913.02" y="1347.5" width="27" height="77.09" fill="url(#gblue)" stroke="#fff" stroke-width="1"/>
<rect x="969.17" y="1347.5" width="27" height="115.12" fill="url(#gblue)" stroke="#fff" stroke-width="1"/>
<rect x="1025.33" y="1326.95" width="27" height="20.55" fill="url(#gblue)" stroke="#fff" stroke-width="1"/>
<rect x="1081.47" y="1347.5" width="27" height="153.16" fill="url(#gblue)" stroke="#fff" stroke-width="1"/>
<rect x="1137.62" y="1347.5" width="27" height="77.09" fill="url(#gblue)" stroke="#fff" stroke-width="1"/>
<rect x="1193.78" y="1347.5" width="27" height="39.56" fill="url(#gblue)" stroke="#fff" stroke-width="1"/>
<rect x="1249.92" y="1347.5" width="27" height="125.92" fill="url(#gblue)" stroke="#fff" stroke-width="1"/>
<text x="761.08" y="1571" font-size="14.5" fill="#111" text-anchor="end" transform="rotate(-45 761.08 1571)">软商品</text>
<text x="817.23" y="1571" font-size="14.5" fill="#111" text-anchor="end" transform="rotate(-45 817.23 1571)">油脂油料</text>
<text x="873.38" y="1571" font-size="14.5" fill="#111" text-anchor="end" transform="rotate(-45 873.38 1571)">贵金属</text>
<text x="929.52" y="1571" font-size="14.5" fill="#111" text-anchor="end" transform="rotate(-45 929.52 1571)">非金属建材</text>
<text x="985.67" y="1571" font-size="14.5" fill="#111" text-anchor="end" transform="rotate(-45 985.67 1571)">有色</text>
<text x="1041.83" y="1571" font-size="14.5" fill="#111" text-anchor="end" transform="rotate(-45 1041.83 1571)">煤焦钢矿</text>
<text x="1097.97" y="1571" font-size="14.5" fill="#111" text-anchor="end" transform="rotate(-45 1097.97 1571)">能源</text>
<text x="1154.12" y="1571" font-size="14.5" fill="#111" text-anchor="end" transform="rotate(-45 1154.12 1571)">谷物</text>
<text x="1210.28" y="1571" font-size="14.5" fill="#111" text-anchor="end" transform="rotate(-45 1210.28 1571)">化工</text>
<text x="1266.42" y="1571" font-size="14.5" fill="#111" text-anchor="end" transform="rotate(-45 1266.42 1571)">农副产品</text>
<path d="M730 1552.5H1291.5" stroke="#c0d0e0" stroke-width="1" fill="none"/>
<path d="M329.3 1751.5A116.5 116.5 0 0 1 343.87 1752.41L340.93 1775.73A93 93 0 0 0 329.3 1775Z" fill="url(#p1868_0)" stroke="#fff" stroke-width="1" stroke-linejoin="round"/>
<path d="M343.87 1752.41A116.5 116.5 0 0 1 444.54 1885.11L421.29 1881.65A93 93 0 0 0 340.93 1775.73Z" fill="url(#p1868_1)" stroke="#fff" stroke-width="1" stroke-linejoin="round"/>
<path d="M444.54 1885.11A116.5 116.5 0 0 1 443.08 1893.01L420.13 1887.96A93 93 0 0 0 421.29 1881.65Z" fill="url(#p1868_2)" stroke="#fff" stroke-width="1" stroke-linejoin="round"/>
<path d="M443.08 1893.01A116.5 116.5 0 0 1 412.06 1949.99L395.37 1933.45A93 93 0 0 0 420.13 1887.96Z" fill="url(#p1868_3)" stroke="#fff" stroke-width="1" stroke-linejoin="round"/>
<path d="M412.06 1949.99A116.5 116.5 0 0 1 300.38 1980.85L306.22 1958.09A93 93 0 0 0 395.37 1933.45Z" fill="url(#p1868_4)" stroke="#fff" stroke-width="1" stroke-linejoin="round"/>
<path d="M300.38 1980.85A116.5 116.5 0 0 1 236.05 1937.83L254.86 1923.74A93 93 0 0 0 306.22 1958.09Z" fill="url(#p1868_5)" stroke="#fff" stroke-width="1" stroke-linejoin="round"/>
<path d="M236.05 1937.83A116.5 116.5 0 0 1 217.72 1901.49L240.23 1894.73A93 93 0 0 0 254.86 1923.74Z" fill="url(#p1868_6)" stroke="#fff" stroke-width="1" stroke-linejoin="round"/>
<path d="M217.72 1901.49A116.5 116.5 0 0 1 216.91 1837.32L239.58 1843.51A93 93 0 0 0 240.23 1894.73Z" fill="url(#p1868_7)" stroke="#fff" stroke-width="1" stroke-linejoin="round"/>
<path d="M216.91 1837.32A116.5 116.5 0 0 1 304.65 1754.14L309.62 1777.11A93 93 0 0 0 239.58 1843.51Z" fill="url(#p1868_8)" stroke="#fff" stroke-width="1" stroke-linejoin="round"/>
<path d="M304.65 1754.14A116.5 116.5 0 0 1 329.3 1751.5L329.3 1775A93 93 0 0 0 309.62 1777.11Z" fill="url(#p1868_9)" stroke="#fff" stroke-width="1" stroke-linejoin="round"/>
<text x="329.3" y="1876.5" font-size="18" fill="#555" text-anchor="middle">板块成交额占比</text>
<text x="353" y="1730" font-size="14" fill="#000" font-weight="bold" letter-spacing="0.45">农副产品2.0 %</text>
<path d="M344 1725C338 1725 338.1 1727.78 336.6 1751.73" stroke="#04044c" stroke-width="1" fill="none"/>
<text x="461" y="1788" font-size="14" fill="#000" font-weight="bold" letter-spacing="0.45">化工25.4 %</text>
<path d="M452 1783C446 1783 441.23 1783.08 422.11 1797.59" stroke="#0a0a5e" stroke-width="1" fill="none"/>
<text x="488" y="1903" font-size="14" fill="#000" font-weight="bold" letter-spacing="0.45">谷物1.1 %</text>
<path d="M479 1898C473 1898 467.48 1893.41 443.88 1889.07" stroke="#1c1c84" stroke-width="1" fill="none"/>
<text x="473" y="1946" font-size="14" fill="#000" font-weight="bold" letter-spacing="0.45">能源9.0 %</text>
<path d="M464 1941C458 1941 452.7 1935.18 431.62 1923.7" stroke="#3a3a9c" stroke-width="1" fill="none"/>
<text x="384" y="2018" font-size="14" fill="#000" font-weight="bold" letter-spacing="0.45">煤焦钢矿16.6 %</text>
<path d="M375 2013C369 2013 366.73 2003.42 360.33 1980.29" stroke="#5555b8" stroke-width="1" fill="none"/>
<text x="231" y="1999" font-size="14" fill="#000" text-anchor="end" font-weight="bold" letter-spacing="0.45">有色10.8 %</text>
<path d="M240 1994C246 1994 251.2 1984.79 264.54 1964.84" stroke="#8080e0" stroke-width="1" fill="none"/>
<text x="180" y="1943" font-size="14" fill="#000" text-anchor="end" font-weight="bold" letter-spacing="0.45">非金属建材5.6 %</text>
<path d="M189 1938C195 1938 203.85 1931.27 225.28 1920.47" stroke="#a4a4f8" stroke-width="1" fill="none"/>
<text x="166" y="1879.5" font-size="14" fill="#000" text-anchor="end" font-weight="bold" letter-spacing="0.45">贵金属8.9 %</text>
<path d="M175 1874.5C181 1874.5 188.81 1869.76 212.81 1869.46" stroke="#d0d0fc" stroke-width="1" fill="none"/>
<text x="210" y="1770" font-size="14" fill="#000" text-anchor="end" font-weight="bold" letter-spacing="0.45">油脂油料17.4 %</text>
<path d="M219 1765C225 1765 232.63 1766.04 249.15 1783.46" stroke="#f0f0ff" stroke-width="1" fill="none"/>
<text x="296" y="1730.5" font-size="14" fill="#000" text-anchor="end" font-weight="bold" letter-spacing="0.45">软商品3.4 %</text>
<path d="M305 1725.5C311 1725.5 314.35 1728.3 316.9 1752.16" stroke="#ffffff" stroke-width="1" fill="none"/>
<text x="977" y="1689" font-size="18" fill="#333" text-anchor="middle">成交额变化</text>
<path d="M736.75 1717.5H1291.5" stroke="#e0e0e0" stroke-width="1" fill="none"/>
<path d="M736.75 1769.5H1291.5" stroke="#e0e0e0" stroke-width="1" fill="none"/>
<path d="M736.75 1820.5H1291.5" stroke="#e0e0e0" stroke-width="1" fill="none"/>
<path d="M736.75 1872.5H1291.5" stroke="#e0e0e0" stroke-width="1" fill="none"/>
<path d="M736.75 1923.5H1291.5" stroke="#e0e0e0" stroke-width="1" fill="none"/>
<text x="722" y="1721" font-size="11.5" fill="#000" text-anchor="end">30%</text>
<text x="722" y="1773" font-size="11.5" fill="#000" text-anchor="end">20%</text>
<text x="722" y="1824" font-size="11.5" fill="#000" text-anchor="end">10%</text>
<text x="722" y="1876" font-size="11.5" fill="#000" text-anchor="end">0%</text>
<text x="722" y="1927" font-size="11.5" fill="#000" text-anchor="end">−10%</text>
<text x="722" y="1978" font-size="11.5" fill="#000" text-anchor="end">−20%</text>
<text x="680" y="1846" font-size="12" fill="#000" text-anchor="middle" transform="rotate(-90 680 1846)">涨跌幅</text>
<rect x="750.99" y="1872.5" width="27" height="48.3" fill="url(#gblue)" stroke="#fff" stroke-width="1"/>
<rect x="806.46" y="1748.13" width="27" height="124.37" fill="url(#gblue)" stroke="#fff" stroke-width="1"/>
<rect x="861.94" y="1872.5" width="27" height="17.46" fill="url(#gblue)" stroke="#fff" stroke-width="1"/>
<rect x="917.41" y="1864.8" width="27" height="7.7" fill="url(#gblue)" stroke="#fff" stroke-width="1"/>
<rect x="972.89" y="1833.96" width="27" height="38.54" fill="url(#gblue)" stroke="#fff" stroke-width="1"/>
<rect x="1028.36" y="1827.28" width="27" height="45.22" fill="url(#gblue)" stroke="#fff" stroke-width="1"/>
<rect x="1083.84" y="1839.1" width="27" height="33.4" fill="url(#gblue)" stroke="#fff" stroke-width="1"/>
<rect x="1139.31" y="1872.5" width="27" height="11.29" fill="url(#gblue)" stroke="#fff" stroke-width="1"/>
<rect x="1194.79" y="1812.89" width="27" height="59.61" fill="url(#gblue)" stroke="#fff" stroke-width="1"/>
<rect x="1249.76" y="1871.5" width="28" height="2" fill="#fff"/>
<text x="767.49" y="1993" font-size="14.5" fill="#111" text-anchor="end" transform="rotate(-45 767.49 1993)">软商品</text>
<text x="822.96" y="1993" font-size="14.5" fill="#111" text-anchor="end" transform="rotate(-45 822.96 1993)">油脂油料</text>
<text x="878.44" y="1993" font-size="14.5" fill="#111" text-anchor="end" transform="rotate(-45 878.44 1993)">贵金属</text>
<text x="933.91" y="1993" font-size="14.5" fill="#111" text-anchor="end" transform="rotate(-45 933.91 1993)">非金属建材</text>
<text x="989.39" y="1993" font-size="14.5" fill="#111" text-anchor="end" transform="rotate(-45 989.39 1993)">有色</text>
<text x="1044.86" y="1993" font-size="14.5" fill="#111" text-anchor="end" transform="rotate(-45 1044.86 1993)">煤焦钢矿</text>
<text x="1100.34" y="1993" font-size="14.5" fill="#111" text-anchor="end" transform="rotate(-45 1100.34 1993)">能源</text>
<text x="1155.81" y="1993" font-size="14.5" fill="#111" text-anchor="end" transform="rotate(-45 1155.81 1993)">谷物</text>
<text x="1211.29" y="1993" font-size="14.5" fill="#111" text-anchor="end" transform="rotate(-45 1211.29 1993)">化工</text>
<text x="1266.76" y="1993" font-size="14.5" fill="#111" text-anchor="end" transform="rotate(-45 1266.76 1993)">农副产品</text>
<path d="M736.75 1974.5H1291.5" stroke="#c0d0e0" stroke-width="1" fill="none"/>
<text x="653" y="2110.5" font-size="18" fill="#333" text-anchor="middle">期货主力合约涨跌幅</text>
<path d="M81.5 2139.5H1291.5" stroke="#e0e0e0" stroke-width="1" fill="none"/>
<path d="M81.5 2192.5H1291.5" stroke="#e0e0e0" stroke-width="1" fill="none"/>
<path d="M81.5 2243.5H1291.5" stroke="#e0e0e0" stroke-width="1" fill="none"/>
<path d="M81.5 2295.5H1291.5" stroke="#e0e0e0" stroke-width="1" fill="none"/>
<path d="M81.5 2346.5H1291.5" stroke="#e0e0e0" stroke-width="1" fill="none"/>
<text x="67" y="2143" font-size="11.5" fill="#000" text-anchor="end">4%</text>
<text x="67" y="2196" font-size="11.5" fill="#000" text-anchor="end">3%</text>
<text x="67" y="2247" font-size="11.5" fill="#000" text-anchor="end">2%</text>
<text x="67" y="2299" font-size="11.5" fill="#000" text-anchor="end">1%</text>
<text x="67" y="2350" font-size="11.5" fill="#000" text-anchor="end">0%</text>
<text x="67" y="2402" font-size="11.5" fill="#000" text-anchor="end">−1%</text>
<text x="31" y="2269" font-size="12" fill="#000" text-anchor="middle" transform="rotate(-90 31 2269)">涨跌幅</text>
<rect x="87.5" y="2346.5" width="12" height="17.08" fill="url(#gblue)" stroke="#fff" stroke-width="1"/>
<rect x="111.2" y="2290.06" width="12" height="56.44" fill="url(#gblue)" stroke="#fff" stroke-width="1"/>
<rect x="134.9" y="2330.46" width="12" height="16.04" fill="url(#gblue)" stroke="#fff" stroke-width="1"/>
<rect x="158.59" y="2261.05" width="12" height="85.45" fill="url(#gblue)" stroke="#fff" stroke-width="1"/>
<rect x="205.49" y="2345.5" width="13" height="2" fill="#fff"/>
<rect x="229.69" y="2290.57" width="12" height="55.93" fill="url(#gblue)" stroke="#fff" stroke-width="1"/>
<rect x="277.08" y="2342.89" width="12" height="3.61" fill="url(#gblue)" stroke="#fff" stroke-width="1"/>
<rect x="300.78" y="2324.24" width="12" height="22.26" fill="url(#gblue)" stroke="#fff" stroke-width="1"/>
<rect x="324.48" y="2275.55" width="12" height="70.95" fill="url(#gblue)" stroke="#fff" stroke-width="1"/>
<rect x="348.18" y="2231.52" width="12" height="114.98" fill="url(#gblue)" stroke="#fff" stroke-width="1"/>
<rect x="371.88" y="2253.28" width="12" height="93.22" fill="url(#gblue)" stroke="#fff" stroke-width="1"/>
<rect x="395.57" y="2153.3" width="12" height="193.2" fill="url(#gblue)" stroke="#fff" stroke-width="1"/>
<rect x="419.27" y="2268.3" width="12" height="78.2" fill="url(#gblue)" stroke="#fff" stroke-width="1"/>
<rect x="442.97" y="2346.5" width="12" height="8.79" fill="url(#gblue)" stroke="#fff" stroke-width="1"/>
<rect x="466.67" y="2346.5" width="12" height="17.08" fill="url(#gblue)" stroke="#fff" stroke-width="1"/>
<rect x="490.37" y="2228.41" width="12" height="118.09" fill="url(#gblue)" stroke="#fff" stroke-width="1"/>
<rect x="514.06" y="2253.28" width="12" height="93.22" fill="url(#gblue)" stroke="#fff" stroke-width="1"/>
<rect x="537.76" y="2282.29" width="12" height="64.21" fill="url(#gblue)" stroke="#fff" stroke-width="1"/>
<rect x="561.46" y="2346.5" width="12" height="36.76" fill="url(#gblue)" stroke="#fff" stroke-width="1"/>
<rect x="584.66" y="2345" width="13" height="3" fill="#fff"/>
<rect x="585.66" y="2346.7" width="11" height="0.9" fill="#3f78b3"/>
<rect x="608.86" y="2200.44" width="12" height="146.06" fill="url(#gblue)" stroke="#fff" stroke-width="1"/>
<rect x="632.55" y="2308.7" width="12" height="37.8" fill="url(#gblue)" stroke="#fff" stroke-width="1"/>
<rect x="656.25" y="2261.57" width="12" height="84.93" fill="url(#gblue)" stroke="#fff" stroke-width="1"/>
<rect x="679.95" y="2163.66" width="12" height="182.84" fill="url(#gblue)" stroke="#fff" stroke-width="1"/>
<rect x="703.65" y="2254.31" width="12" height="92.19" fill="url(#gblue)" stroke="#fff" stroke-width="1"/>
<rect x="727.35" y="2296.27" width="12" height="50.23" fill="url(#gblue)" stroke="#fff" stroke-width="1"/>
<rect x="751.04" y="2346.5" width="12" height="8.79" fill="url(#gblue)" stroke="#fff" stroke-width="1"/>
<rect x="774.74" y="2334.6" width="12" height="11.9" fill="url(#gblue)" stroke="#fff" stroke-width="1"/>
<rect x="798.44" y="2346.5" width="12" height="13.97" fill="url(#gblue)" stroke="#fff" stroke-width="1"/>
<rect x="822.14" y="2315.44" width="12" height="31.06" fill="url(#gblue)" stroke="#fff" stroke-width="1"/>
<rect x="845.84" y="2333.57" width="12" height="12.93" fill="url(#gblue)" stroke="#fff" stroke-width="1"/>
<rect x="869.53" y="2346.5" width="12" height="7.23" fill="url(#gblue)" stroke="#fff" stroke-width="1"/>
<rect x="893.23" y="2202.51" width="12" height="143.99" fill="url(#gblue)" stroke="#fff" stroke-width="1"/>
<rect x="916.93" y="2256.39" width="12" height="90.11" fill="url(#gblue)" stroke="#fff" stroke-width="1"/>
<rect x="940.63" y="2286.43" width="12" height="60.07" fill="url(#gblue)" stroke="#fff" stroke-width="1"/>
<rect x="964.33" y="2309.74" width="12" height="36.76" fill="url(#gblue)" stroke="#fff" stroke-width="1"/>
<rect x="988.02" y="2252.76" width="12" height="93.74" fill="url(#gblue)" stroke="#fff" stroke-width="1"/>
<rect x="1011.72" y="2234.63" width="12" height="111.87" fill="url(#gblue)" stroke="#fff" stroke-width="1"/>
<rect x="1035.42" y="2346.5" width="12" height="5.16" fill="url(#gblue)" stroke="#fff" stroke-width="1"/>
<rect x="1058.62" y="2345" width="13" height="3" fill="#fff"/>
<rect x="1059.62" y="2346.7" width="11" height="0.9" fill="#3f78b3"/>
<rect x="1082.82" y="2346.5" width="12" height="33.13" fill="url(#gblue)" stroke="#fff" stroke-width="1"/>
<rect x="1106.51" y="2306.63" width="12" height="39.87" fill="url(#gblue)" stroke="#fff" stroke-width="1"/>
<rect x="1130.21" y="2334.6" width="12" height="11.9" fill="url(#gblue)" stroke="#fff" stroke-width="1"/>
<rect x="1153.91" y="2290.57" width="12" height="55.93" fill="url(#gblue)" stroke="#fff" stroke-width="1"/>
<rect x="1177.61" y="2287.47" width="12" height="59.03" fill="url(#gblue)" stroke="#fff" stroke-width="1"/>
<rect x="1201.31" y="2321.65" width="12" height="24.85" fill="url(#gblue)" stroke="#fff" stroke-width="1"/>
<rect x="1224.5" y="2345" width="13" height="3" fill="#fff"/>
<rect x="1225.5" y="2346.7" width="11" height="0.9" fill="#3f78b3"/>
<rect x="1248.7" y="2284.36" width="12" height="62.14" fill="url(#gblue)" stroke="#fff" stroke-width="1"/>
<rect x="1272.4" y="2342.37" width="12" height="4.13" fill="url(#gblue)" stroke="#fff" stroke-width="1"/>
<text x="97" y="2417.5" font-size="15" fill="#000" text-anchor="end" transform="rotate(-45 97 2417.5)">锌</text>
<text x="120.7" y="2417.5" font-size="15" fill="#000" text-anchor="end" transform="rotate(-45 120.7 2417.5)">豆油</text>
<text x="144.4" y="2417.5" font-size="15" fill="#000" text-anchor="end" transform="rotate(-45 144.4 2417.5)">PVC</text>
<text x="168.09" y="2417.5" font-size="15" fill="#000" text-anchor="end" transform="rotate(-45 168.09 2417.5)">尿素</text>
<text x="191.79" y="2417.5" font-size="15" fill="#000" text-anchor="end" transform="rotate(-45 191.79 2417.5)">2年国债</text>
<text x="215.49" y="2417.5" font-size="15" fill="#000" text-anchor="end" transform="rotate(-45 215.49 2417.5)">5年国债</text>
<text x="239.19" y="2417.5" font-size="15" fill="#000" text-anchor="end" transform="rotate(-45 239.19 2417.5)">PTA</text>
<text x="262.88" y="2417.5" font-size="15" fill="#000" text-anchor="end" transform="rotate(-45 262.88 2417.5)">10年国债</text>
<text x="286.58" y="2417.5" font-size="15" fill="#000" text-anchor="end" transform="rotate(-45 286.58 2417.5)">不锈钢</text>
<text x="310.28" y="2417.5" font-size="15" fill="#000" text-anchor="end" transform="rotate(-45 310.28 2417.5)">白糖</text>
<text x="333.98" y="2417.5" font-size="15" fill="#000" text-anchor="end" transform="rotate(-45 333.98 2417.5)">纸浆</text>
<text x="357.68" y="2417.5" font-size="15" fill="#000" text-anchor="end" transform="rotate(-45 357.68 2417.5)">锡</text>
<text x="381.38" y="2417.5" font-size="15" fill="#000" text-anchor="end" transform="rotate(-45 381.38 2417.5)">锰硅</text>
<text x="405.07" y="2417.5" font-size="15" fill="#000" text-anchor="end" transform="rotate(-45 405.07 2417.5)">硅铁</text>
<text x="428.77" y="2417.5" font-size="15" fill="#000" text-anchor="end" transform="rotate(-45 428.77 2417.5)">纯碱</text>
<text x="452.47" y="2417.5" font-size="15" fill="#000" text-anchor="end" transform="rotate(-45 452.47 2417.5)">橡胶</text>
<text x="476.17" y="2417.5" font-size="15" fill="#000" text-anchor="end" transform="rotate(-45 476.17 2417.5)">粳米</text>
<text x="499.87" y="2417.5" font-size="15" fill="#000" text-anchor="end" transform="rotate(-45 499.87 2417.5)">菜粕</text>
<text x="523.56" y="2417.5" font-size="15" fill="#000" text-anchor="end" transform="rotate(-45 523.56 2417.5)">螺纹钢</text>
<text x="547.26" y="2417.5" font-size="15" fill="#000" text-anchor="end" transform="rotate(-45 547.26 2417.5)">聚丙烯</text>
<text x="570.96" y="2417.5" font-size="15" fill="#000" text-anchor="end" transform="rotate(-45 570.96 2417.5)">LPG</text>
<text x="594.66" y="2417.5" font-size="15" fill="#000" text-anchor="end" transform="rotate(-45 594.66 2417.5)">铅</text>
<text x="618.36" y="2417.5" font-size="15" fill="#000" text-anchor="end" transform="rotate(-45 618.36 2417.5)">棕榈油</text>
<text x="642.05" y="2417.5" font-size="15" fill="#000" text-anchor="end" transform="rotate(-45 642.05 2417.5)">菜油</text>
<text x="665.75" y="2417.5" font-size="15" fill="#000" text-anchor="end" transform="rotate(-45 665.75 2417.5)">镍</text>
<text x="689.45" y="2417.5" font-size="15" fill="#000" text-anchor="end" transform="rotate(-45 689.45 2417.5)">甲醇</text>
<text x="713.15" y="2417.5" font-size="15" fill="#000" text-anchor="end" transform="rotate(-45 713.15 2417.5)">豆粕</text>
<text x="736.85" y="2417.5" font-size="15" fill="#000" text-anchor="end" transform="rotate(-45 736.85 2417.5)">塑料</text>
<text x="760.54" y="2417.5" font-size="15" fill="#000" text-anchor="end" transform="rotate(-45 760.54 2417.5)">焦煤</text>
<text x="784.24" y="2417.5" font-size="15" fill="#000" text-anchor="end" transform="rotate(-45 784.24 2417.5)">鸡蛋</text>
<text x="807.94" y="2417.5" font-size="15" fill="#000" text-anchor="end" transform="rotate(-45 807.94 2417.5)">焦炭</text>
<text x="831.64" y="2417.5" font-size="15" fill="#000" text-anchor="end" transform="rotate(-45 831.64 2417.5)">上证50</text>
<text x="855.34" y="2417.5" font-size="15" fill="#000" text-anchor="end" transform="rotate(-45 855.34 2417.5)">沪深300</text>
<text x="879.03" y="2417.5" font-size="15" fill="#000" text-anchor="end" transform="rotate(-45 879.03 2417.5)">中证500</text>
<text x="902.73" y="2417.5" font-size="15" fill="#000" text-anchor="end" transform="rotate(-45 902.73 2417.5)">铁矿石</text>
<text x="926.43" y="2417.5" font-size="15" fill="#000" text-anchor="end" transform="rotate(-45 926.43 2417.5)">热轧卷板</text>
<text x="950.13" y="2417.5" font-size="15" fill="#000" text-anchor="end" transform="rotate(-45 950.13 2417.5)">燃油</text>
<text x="973.83" y="2417.5" font-size="15" fill="#000" text-anchor="end" transform="rotate(-45 973.83 2417.5)">玻璃</text>
<text x="997.52" y="2417.5" font-size="15" fill="#000" text-anchor="end" transform="rotate(-45 997.52 2417.5)">乙二醇</text>
<text x="1021.22" y="2417.5" font-size="15" fill="#000" text-anchor="end" transform="rotate(-45 1021.22 2417.5)">苯乙烯</text>
<text x="1044.92" y="2417.5" font-size="15" fill="#000" text-anchor="end" transform="rotate(-45 1044.92 2417.5)">铜</text>
<text x="1068.62" y="2417.5" font-size="15" fill="#000" text-anchor="end" transform="rotate(-45 1068.62 2417.5)">玉米淀粉</text>
<text x="1092.32" y="2417.5" font-size="15" fill="#000" text-anchor="end" transform="rotate(-45 1092.32 2417.5)">红枣</text>
<text x="1116.01" y="2417.5" font-size="15" fill="#000" text-anchor="end" transform="rotate(-45 1116.01 2417.5)">棉花</text>
<text x="1139.71" y="2417.5" font-size="15" fill="#000" text-anchor="end" transform="rotate(-45 1139.71 2417.5)">玉米</text>
<text x="1163.41" y="2417.5" font-size="15" fill="#000" text-anchor="end" transform="rotate(-45 1163.41 2417.5)">沥青</text>
<text x="1187.11" y="2417.5" font-size="15" fill="#000" text-anchor="end" transform="rotate(-45 1187.11 2417.5)">豆二</text>
<text x="1210.81" y="2417.5" font-size="15" fill="#000" text-anchor="end" transform="rotate(-45 1210.81 2417.5)">黄金</text>
<text x="1234.5" y="2417.5" font-size="15" fill="#000" text-anchor="end" transform="rotate(-45 1234.5 2417.5)">铝</text>
<text x="1258.2" y="2417.5" font-size="15" fill="#000" text-anchor="end" transform="rotate(-45 1258.2 2417.5)">白银</text>
<text x="1281.9" y="2417.5" font-size="15" fill="#000" text-anchor="end" transform="rotate(-45 1281.9 2417.5)">豆一</text>
<path d="M81.5 2398.5H1291.5" stroke="#c0d0e0" stroke-width="1" fill="none"/>
<text x="653" y="2532.5" font-size="18" fill="#333" text-anchor="middle">品种每日成交量变化</text>
<path d="M93 2561.5H1235" stroke="#e0e0e0" stroke-width="1" fill="none"/>
<path d="M93 2621.5H1235" stroke="#e0e0e0" stroke-width="1" fill="none"/>
<path d="M93 2680.5H1235" stroke="#e0e0e0" stroke-width="1" fill="none"/>
<path d="M93 2739.5H1235" stroke="#e0e0e0" stroke-width="1" fill="none"/>
<text x="79" y="2565.3" font-size="11" fill="#4a85c5" text-anchor="end">300%</text>
<text x="79" y="2625.3" font-size="11" fill="#4a85c5" text-anchor="end">150%</text>
<text x="79" y="2684.3" font-size="11" fill="#4a85c5" text-anchor="end">0%</text>
<text x="79" y="2743.3" font-size="11" fill="#4a85c5" text-anchor="end">−150%</text>
<text x="79" y="2802.3" font-size="11" fill="#4a85c5" text-anchor="end">−300%</text>
<text x="1251.5" y="2565.3" font-size="11" fill="#000">4</text>
<text x="1251.5" y="2625.3" font-size="11" fill="#000">2</text>
<text x="1251.5" y="2684.3" font-size="11" fill="#000">0</text>
<text x="1251.5" y="2743.3" font-size="11" fill="#000">−2</text>
<text x="1251.5" y="2802.3" font-size="11" fill="#000">−4</text>
<text x="31" y="2680.5" font-size="12" fill="#4a85c5" text-anchor="middle" transform="rotate(-90 31 2680.5)">涨跌幅</text>
<text x="1276" y="2680.5" font-size="12" fill="#000" text-anchor="middle" transform="rotate(90 1276 2680.5)">Z分(30日)</text>
<rect x="97.5" y="2666.7" width="6" height="13.8" fill="url(#gblue)" stroke="#fff" stroke-width="1"/>
<rect x="104.5" y="2680.5" width="6" height="35.8" fill="url(#gblack)" stroke="#fff" stroke-width="1"/>
<rect x="119.89" y="2671.7" width="6" height="8.8" fill="url(#gblue)" stroke="#fff" stroke-width="1"/>
<rect x="126.89" y="2664.7" width="6" height="15.8" fill="url(#gblack)" stroke="#fff" stroke-width="1"/>
<rect x="142.28" y="2680.5" width="6" height="2.8" fill="url(#gblue)" stroke="#fff" stroke-width="1"/>
<rect x="149.28" y="2680.5" width="6" height="5.8" fill="url(#gblack)" stroke="#fff" stroke-width="1"/>
<rect x="164.67" y="2680.5" width="6" height="2.8" fill="url(#gblue)" stroke="#fff" stroke-width="1"/>
<rect x="171.67" y="2677.7" width="6" height="2.8" fill="url(#gblack)" stroke="#fff" stroke-width="1"/>
<rect x="187.06" y="2671.7" width="6" height="8.8" fill="url(#gblue)" stroke="#fff" stroke-width="1"/>
<rect x="194.06" y="2680.5" width="6" height="27.8" fill="url(#gblack)" stroke="#fff" stroke-width="1"/>
<rect x="209.46" y="2672.7" width="6" height="7.8" fill="url(#gblue)" stroke="#fff" stroke-width="1"/>
<rect x="216.46" y="2680.5" width="6" height="30.8" fill="url(#gblack)" stroke="#fff" stroke-width="1"/>
<rect x="231.85" y="2672.7" width="6" height="7.8" fill="url(#gblue)" stroke="#fff" stroke-width="1"/>
<rect x="238.85" y="2673.7" width="6" height="6.8" fill="url(#gblack)" stroke="#fff" stroke-width="1"/>
<rect x="254.24" y="2676.7" width="6" height="3.8" fill="url(#gblue)" stroke="#fff" stroke-width="1"/>
<rect x="261.24" y="2680.5" width="6" height="35.8" fill="url(#gblack)" stroke="#fff" stroke-width="1"/>
<rect x="283.63" y="2680.5" width="6" height="21.8" fill="url(#gblack)" stroke="#fff" stroke-width="1"/>
<rect x="299.03" y="2680.5" width="6" height="4.8" fill="url(#gblue)" stroke="#fff" stroke-width="1"/>
<rect x="306.03" y="2680.5" width="6" height="46.8" fill="url(#gblack)" stroke="#fff" stroke-width="1"/>
<rect x="321.42" y="2648.7" width="6" height="31.8" fill="url(#gblue)" stroke="#fff" stroke-width="1"/>
<rect x="328.42" y="2669.7" width="6" height="10.8" fill="url(#gblack)" stroke="#fff" stroke-width="1"/>
<rect x="350.81" y="2680.5" width="6" height="11.8" fill="url(#gblack)" stroke="#fff" stroke-width="1"/>
<rect x="366.2" y="2680.5" width="6" height="11.8" fill="url(#gblue)" stroke="#fff" stroke-width="1"/>
<rect x="373.2" y="2653.7" width="6" height="26.8" fill="url(#gblack)" stroke="#fff" stroke-width="1"/>
<rect x="388.59" y="2680.5" width="6" height="3.8" fill="url(#gblue)" stroke="#fff" stroke-width="1"/>
<rect x="395.59" y="2644.7" width="6" height="35.8" fill="url(#gblack)" stroke="#fff" stroke-width="1"/>
<rect x="410.99" y="2680.5" width="6" height="5.8" fill="url(#gblue)" stroke="#fff" stroke-width="1"/>
<rect x="417.99" y="2680.5" width="6" height="5.8" fill="url(#gblack)" stroke="#fff" stroke-width="1"/>
<rect x="433.38" y="2680.5" width="6" height="8.8" fill="url(#gblue)" stroke="#fff" stroke-width="1"/>
<rect x="440.38" y="2680.5" width="6" height="25.8" fill="url(#gblack)" stroke="#fff" stroke-width="1"/>
<rect x="455.77" y="2680.5" width="6" height="4.8" fill="url(#gblue)" stroke="#fff" stroke-width="1"/>
<rect x="462.77" y="2666.7" width="6" height="13.8" fill="url(#gblack)" stroke="#fff" stroke-width="1"/>
<rect x="478.16" y="2670.7" width="6" height="9.8" fill="url(#gblue)" stroke="#fff" stroke-width="1"/>
<rect x="485.16" y="2674.7" width="6" height="5.8" fill="url(#gblack)" stroke="#fff" stroke-width="1"/>
<rect x="500.05" y="2679" width="7" height="3" fill="#fff"/>
<rect x="501.05" y="2679.5" width="5" height="0.9" fill="#3f78b3"/>
<rect x="507.55" y="2668.7" width="6" height="11.8" fill="url(#gblack)" stroke="#fff" stroke-width="1"/>
<rect x="522.95" y="2669.7" width="6" height="10.8" fill="url(#gblue)" stroke="#fff" stroke-width="1"/>
<rect x="529.95" y="2673.7" width="6" height="6.8" fill="url(#gblack)" stroke="#fff" stroke-width="1"/>
<rect x="545.34" y="2676.7" width="6" height="3.8" fill="url(#gblue)" stroke="#fff" stroke-width="1"/>
<rect x="551.84" y="2679" width="7" height="3" fill="#fff"/>
<rect x="552.84" y="2680.7" width="5" height="0.9" fill="#111"/>
<rect x="567.73" y="2680.5" width="6" height="15.8" fill="url(#gblue)" stroke="#fff" stroke-width="1"/>
<rect x="574.73" y="2680.5" width="6" height="11.8" fill="url(#gblack)" stroke="#fff" stroke-width="1"/>
<rect x="590.12" y="2671.7" width="6" height="8.8" fill="url(#gblue)" stroke="#fff" stroke-width="1"/>
<rect x="597.12" y="2674.7" width="6" height="5.8" fill="url(#gblack)" stroke="#fff" stroke-width="1"/>
<rect x="612.02" y="2679" width="7" height="3" fill="#fff"/>
<rect x="613.02" y="2679.5" width="5" height="0.9" fill="#3f78b3"/>
<rect x="619.52" y="2680.5" width="6" height="5.8" fill="url(#gblack)" stroke="#fff" stroke-width="1"/>
<rect x="634.91" y="2672.7" width="6" height="7.8" fill="url(#gblue)" stroke="#fff" stroke-width="1"/>
<rect x="641.91" y="2626.7" width="6" height="53.8" fill="url(#gblack)" stroke="#fff" stroke-width="1"/>
<rect x="657.3" y="2662.7" width="6" height="17.8" fill="url(#gblue)" stroke="#fff" stroke-width="1"/>
<rect x="679.69" y="2663.7" width="6" height="16.8" fill="url(#gblue)" stroke="#fff" stroke-width="1"/>
<rect x="686.69" y="2652.7" width="6" height="27.8" fill="url(#gblack)" stroke="#fff" stroke-width="1"/>
<rect x="702.08" y="2675.7" width="6" height="4.8" fill="url(#gblue)" stroke="#fff" stroke-width="1"/>
<rect x="709.08" y="2665.7" width="6" height="14.8" fill="url(#gblack)" stroke="#fff" stroke-width="1"/>
<rect x="724.48" y="2676.7" width="6" height="3.8" fill="url(#gblue)" stroke="#fff" stroke-width="1"/>
<rect x="731.48" y="2662.7" width="6" height="17.8" fill="url(#gblack)" stroke="#fff" stroke-width="1"/>
<rect x="746.87" y="2680.5" width="6" height="7.8" fill="url(#gblue)" stroke="#fff" stroke-width="1"/>
<rect x="753.87" y="2680.5" width="6" height="27.8" fill="url(#gblack)" stroke="#fff" stroke-width="1"/>
<rect x="769.26" y="2667.7" width="6" height="12.8" fill="url(#gblue)" stroke="#fff" stroke-width="1"/>
<rect x="776.26" y="2647.7" width="6" height="32.8" fill="url(#gblack)" stroke="#fff" stroke-width="1"/>
<rect x="791.65" y="2680.5" width="6" height="4.8" fill="url(#gblue)" stroke="#fff" stroke-width="1"/>
<rect x="798.65" y="2680.5" width="6" height="37.8" fill="url(#gblack)" stroke="#fff" stroke-width="1"/>
<rect x="814.05" y="2680.5" width="6" height="4.8" fill="url(#gblue)" stroke="#fff" stroke-width="1"/>
<rect x="821.05" y="2680.5" width="6" height="48.8" fill="url(#gblack)" stroke="#fff" stroke-width="1"/>
<rect x="836.44" y="2680.5" width="6" height="4.8" fill="url(#gblue)" stroke="#fff" stroke-width="1"/>
<rect x="843.44" y="2680.5" width="6" height="51.8" fill="url(#gblack)" stroke="#fff" stroke-width="1"/>
<rect x="865.83" y="2680.5" width="6" height="8.8" fill="url(#gblack)" stroke="#fff" stroke-width="1"/>
<rect x="881.22" y="2662.7" width="6" height="17.8" fill="url(#gblue)" stroke="#fff" stroke-width="1"/>
<rect x="888.22" y="2645.7" width="6" height="34.8" fill="url(#gblack)" stroke="#fff" stroke-width="1"/>
<rect x="903.61" y="2673.7" width="6" height="6.8" fill="url(#gblue)" stroke="#fff" stroke-width="1"/>
<rect x="910.61" y="2675" width="6" height="5.5" fill="url(#gblack)" stroke="#fff" stroke-width="1"/>
<rect x="926.01" y="2680.5" width="6" height="2.8" fill="url(#gblue)" stroke="#fff" stroke-width="1"/>
<rect x="933.01" y="2667.7" width="6" height="12.8" fill="url(#gblack)" stroke="#fff" stroke-width="1"/>
<rect x="948.4" y="2674.7" width="6" height="5.8" fill="url(#gblue)" stroke="#fff" stroke-width="1"/>
<rect x="955.4" y="2668.7" width="6" height="11.8" fill="url(#gblack)" stroke="#fff" stroke-width="1"/>
<rect x="970.29" y="2679" width="7" height="3" fill="#fff"/>
<rect x="971.29" y="2679.5" width="5" height="0.9" fill="#3f78b3"/>
<rect x="977.79" y="2680.5" width="6" height="9.8" fill="url(#gblack)" stroke="#fff" stroke-width="1"/>
<rect x="993.18" y="2673.7" width="6" height="6.8" fill="url(#gblue)" stroke="#fff" stroke-width="1"/>
<rect x="1000.18" y="2680.5" width="6" height="34.8" fill="url(#gblack)" stroke="#fff" stroke-width="1"/>
<rect x="1015.57" y="2680.5" width="6" height="6.8" fill="url(#gblue)" stroke="#fff" stroke-width="1"/>
<rect x="1022.57" y="2680.5" width="6" height="18.8" fill="url(#gblack)" stroke="#fff" stroke-width="1"/>
<rect x="1037.97" y="2680.5" width="6" height="8.8" fill="url(#gblue)" stroke="#fff" stroke-width="1"/>
<rect x="1044.97" y="2680.5" width="6" height="2.8" fill="url(#gblack)" stroke="#fff" stroke-width="1"/>
<rect x="1060.36" y="2680.5" width="6" height="2.8" fill="url(#gblue)" stroke="#fff" stroke-width="1"/>
<rect x="1067.36" y="2680.5" width="6" height="21.8" fill="url(#gblack)" stroke="#fff" stroke-width="1"/>
<rect x="1089.75" y="2653.7" width="6" height="26.8" fill="url(#gblack)" stroke="#fff" stroke-width="1"/>
<rect x="1105.14" y="2680.5" width="6" height="6.8" fill="url(#gblue)" stroke="#fff" stroke-width="1"/>
<rect x="1112.14" y="2680.5" width="6" height="31.8" fill="url(#gblack)" stroke="#fff" stroke-width="1"/>
<rect x="1127.54" y="2675.7" width="6" height="4.8" fill="url(#gblue)" stroke="#fff" stroke-width="1"/>
<rect x="1134.54" y="2638.7" width="6" height="41.8" fill="url(#gblack)" stroke="#fff" stroke-width="1"/>
<rect x="1156.93" y="2680.5" width="6" height="48.8" fill="url(#gblack)" stroke="#fff" stroke-width="1"/>
<rect x="1172.32" y="2680.5" width="6" height="5.8" fill="url(#gblue)" stroke="#fff" stroke-width="1"/>
<rect x="1179.32" y="2680.5" width="6" height="26.8" fill="url(#gblack)" stroke="#fff" stroke-width="1"/>
<rect x="1194.71" y="2680.5" width="6" height="5" fill="url(#gblue)" stroke="#fff" stroke-width="1"/>
<rect x="1201.71" y="2680.5" width="6" height="31" fill="url(#gblack)" stroke="#fff" stroke-width="1"/>
<rect x="1216.6" y="2679" width="7" height="3" fill="#fff"/>
<rect x="1217.6" y="2680.7" width="5" height="0.9" fill="#3f78b3"/>
<rect x="1224.1" y="2680.5" width="6" height="16.5" fill="url(#gblack)" stroke="#fff" stroke-width="1"/>
<text x="107.2" y="2813.5" font-size="12.5" fill="#222" text-anchor="end" transform="rotate(-45 107.2 2813.5)">锌</text>
<text x="129.59" y="2813.5" font-size="12.5" fill="#222" text-anchor="end" transform="rotate(-45 129.59 2813.5)">豆油</text>
<text x="151.98" y="2813.5" font-size="12.5" fill="#222" text-anchor="end" transform="rotate(-45 151.98 2813.5)">PVC</text>
<text x="174.37" y="2813.5" font-size="12.5" fill="#222" text-anchor="end" transform="rotate(-45 174.37 2813.5)">尿素</text>
<text x="196.76" y="2813.5" font-size="12.5" fill="#222" text-anchor="end" transform="rotate(-45 196.76 2813.5)">2年国债</text>
<text x="219.16" y="2813.5" font-size="12.5" fill="#222" text-anchor="end" transform="rotate(-45 219.16 2813.5)">5年国债</text>
<text x="241.55" y="2813.5" font-size="12.5" fill="#222" text-anchor="end" transform="rotate(-45 241.55 2813.5)">PTA</text>
<text x="263.94" y="2813.5" font-size="12.5" fill="#222" text-anchor="end" transform="rotate(-45 263.94 2813.5)">10年国债</text>
<text x="286.33" y="2813.5" font-size="12.5" fill="#222" text-anchor="end" transform="rotate(-45 286.33 2813.5)">不锈钢</text>
<text x="308.73" y="2813.5" font-size="12.5" fill="#222" text-anchor="end" transform="rotate(-45 308.73 2813.5)">白糖</text>
<text x="331.12" y="2813.5" font-size="12.5" fill="#222" text-anchor="end" transform="rotate(-45 331.12 2813.5)">纸浆</text>
<text x="353.51" y="2813.5" font-size="12.5" fill="#222" text-anchor="end" transform="rotate(-45 353.51 2813.5)">锡</text>
<text x="375.9" y="2813.5" font-size="12.5" fill="#222" text-anchor="end" transform="rotate(-45 375.9 2813.5)">锰硅</text>
<text x="398.29" y="2813.5" font-size="12.5" fill="#222" text-anchor="end" transform="rotate(-45 398.29 2813.5)">硅铁</text>
<text x="420.69" y="2813.5" font-size="12.5" fill="#222" text-anchor="end" transform="rotate(-45 420.69 2813.5)">纯碱</text>
<text x="443.08" y="2813.5" font-size="12.5" fill="#222" text-anchor="end" transform="rotate(-45 443.08 2813.5)">橡胶</text>
<text x="465.47" y="2813.5" font-size="12.5" fill="#222" text-anchor="end" transform="rotate(-45 465.47 2813.5)">粳米</text>
<text x="487.86" y="2813.5" font-size="12.5" fill="#222" text-anchor="end" transform="rotate(-45 487.86 2813.5)">菜粕</text>
<text x="510.25" y="2813.5" font-size="12.5" fill="#222" text-anchor="end" transform="rotate(-45 510.25 2813.5)">螺纹钢</text>
<text x="532.65" y="2813.5" font-size="12.5" fill="#222" text-anchor="end" transform="rotate(-45 532.65 2813.5)">聚丙烯</text>
<text x="555.04" y="2813.5" font-size="12.5" fill="#222" text-anchor="end" transform="rotate(-45 555.04 2813.5)">LPG</text>
<text x="577.43" y="2813.5" font-size="12.5" fill="#222" text-anchor="end" transform="rotate(-45 577.43 2813.5)">铅</text>
<text x="599.82" y="2813.5" font-size="12.5" fill="#222" text-anchor="end" transform="rotate(-45 599.82 2813.5)">棕榈油</text>
<text x="622.22" y="2813.5" font-size="12.5" fill="#222" text-anchor="end" transform="rotate(-45 622.22 2813.5)">菜油</text>
<text x="644.61" y="2813.5" font-size="12.5" fill="#222" text-anchor="end" transform="rotate(-45 644.61 2813.5)">镍</text>
<text x="667" y="2813.5" font-size="12.5" fill="#222" text-anchor="end" transform="rotate(-45 667 2813.5)">甲醇</text>
<text x="689.39" y="2813.5" font-size="12.5" fill="#222" text-anchor="end" transform="rotate(-45 689.39 2813.5)">豆粕</text>
<text x="711.78" y="2813.5" font-size="12.5" fill="#222" text-anchor="end" transform="rotate(-45 711.78 2813.5)">塑料</text>
<text x="734.18" y="2813.5" font-size="12.5" fill="#222" text-anchor="end" transform="rotate(-45 734.18 2813.5)">焦煤</text>
<text x="756.57" y="2813.5" font-size="12.5" fill="#222" text-anchor="end" transform="rotate(-45 756.57 2813.5)">鸡蛋</text>
<text x="778.96" y="2813.5" font-size="12.5" fill="#222" text-anchor="end" transform="rotate(-45 778.96 2813.5)">焦炭</text>
<text x="801.35" y="2813.5" font-size="12.5" fill="#222" text-anchor="end" transform="rotate(-45 801.35 2813.5)">上证50</text>
<text x="823.75" y="2813.5" font-size="12.5" fill="#222" text-anchor="end" transform="rotate(-45 823.75 2813.5)">沪深300</text>
<text x="846.14" y="2813.5" font-size="12.5" fill="#222" text-anchor="end" transform="rotate(-45 846.14 2813.5)">中证500</text>
<text x="868.53" y="2813.5" font-size="12.5" fill="#222" text-anchor="end" transform="rotate(-45 868.53 2813.5)">铁矿石</text>
<text x="890.92" y="2813.5" font-size="12.5" fill="#222" text-anchor="end" transform="rotate(-45 890.92 2813.5)">热轧卷板</text>
<text x="913.31" y="2813.5" font-size="12.5" fill="#222" text-anchor="end" transform="rotate(-45 913.31 2813.5)">燃油</text>
<text x="935.71" y="2813.5" font-size="12.5" fill="#222" text-anchor="end" transform="rotate(-45 935.71 2813.5)">玻璃</text>
<text x="958.1" y="2813.5" font-size="12.5" fill="#222" text-anchor="end" transform="rotate(-45 958.1 2813.5)">乙二醇</text>
<text x="980.49" y="2813.5" font-size="12.5" fill="#222" text-anchor="end" transform="rotate(-45 980.49 2813.5)">苯乙烯</text>
<text x="1002.88" y="2813.5" font-size="12.5" fill="#222" text-anchor="end" transform="rotate(-45 1002.88 2813.5)">铜</text>
<text x="1025.27" y="2813.5" font-size="12.5" fill="#222" text-anchor="end" transform="rotate(-45 1025.27 2813.5)">玉米淀粉</text>
<text x="1047.67" y="2813.5" font-size="12.5" fill="#222" text-anchor="end" transform="rotate(-45 1047.67 2813.5)">红枣</text>
<text x="1070.06" y="2813.5" font-size="12.5" fill="#222" text-anchor="end" transform="rotate(-45 1070.06 2813.5)">棉花</text>
<text x="1092.45" y="2813.5" font-size="12.5" fill="#222" text-anchor="end" transform="rotate(-45 1092.45 2813.5)">玉米</text>
<text x="1114.84" y="2813.5" font-size="12.5" fill="#222" text-anchor="end" transform="rotate(-45 1114.84 2813.5)">沥青</text>
<text x="1137.24" y="2813.5" font-size="12.5" fill="#222" text-anchor="end" transform="rotate(-45 1137.24 2813.5)">豆二</text>
<text x="1159.63" y="2813.5" font-size="12.5" fill="#222" text-anchor="end" transform="rotate(-45 1159.63 2813.5)">黄金</text>
<text x="1182.02" y="2813.5" font-size="12.5" fill="#222" text-anchor="end" transform="rotate(-45 1182.02 2813.5)">铝</text>
<text x="1204.41" y="2813.5" font-size="12.5" fill="#222" text-anchor="end" transform="rotate(-45 1204.41 2813.5)">白银</text>
<text x="1226.8" y="2813.5" font-size="12.5" fill="#222" text-anchor="end" transform="rotate(-45 1226.8 2813.5)">豆一</text>
<circle cx="582.7" cy="2880.7" r="6" fill="url(#gblue)"/>
<text x="596" y="2885" font-size="12" fill="#333" font-weight="bold">涨跌幅</text>
<circle cx="661" cy="2880.7" r="6" fill="url(#gblack)"/>
<text x="674" y="2885" font-size="12" fill="#333" font-weight="bold">Z分(30日)</text>
<path d="M93 2798.5H1235" stroke="#c0d0e0" stroke-width="1" fill="none"/>
<text x="653" y="2954.5" font-size="18" fill="#333" text-anchor="middle">每日资金变化</text>
<path d="M86 2983.5H1235" stroke="#e0e0e0" stroke-width="1" fill="none"/>
<path d="M86 3043.5H1235" stroke="#e0e0e0" stroke-width="1" fill="none"/>
<path d="M86 3102.5H1235" stroke="#e0e0e0" stroke-width="1" fill="none"/>
<path d="M86 3161.5H1235" stroke="#e0e0e0" stroke-width="1" fill="none"/>
<text x="72" y="2987.3" font-size="11" fill="#4a85c5" text-anchor="end">50%</text>
<text x="72" y="3047.3" font-size="11" fill="#4a85c5" text-anchor="end">25%</text>
<text x="72" y="3106.3" font-size="11" fill="#4a85c5" text-anchor="end">0%</text>
<text x="72" y="3165.3" font-size="11" fill="#4a85c5" text-anchor="end">−25%</text>
<text x="72" y="3224.3" font-size="11" fill="#4a85c5" text-anchor="end">−50%</text>
<text x="1251.5" y="2987.3" font-size="11" fill="#000">4</text>
<text x="1251.5" y="3047.3" font-size="11" fill="#000">2</text>
<text x="1251.5" y="3106.3" font-size="11" fill="#000">0</text>
<text x="1251.5" y="3165.3" font-size="11" fill="#000">−2</text>
<text x="1251.5" y="3224.3" font-size="11" fill="#000">−4</text>
<text x="31" y="3102.5" font-size="12" fill="#4a85c5" text-anchor="middle" transform="rotate(-90 31 3102.5)">涨跌幅</text>
<text x="1276" y="3102.5" font-size="12" fill="#000" text-anchor="middle" transform="rotate(90 1276 3102.5)">Z分(30日)</text>
<rect x="90.56" y="3102.5" width="6" height="2.8" fill="url(#gblue)" stroke="#fff" stroke-width="1"/>
<rect x="97.56" y="3102.5" width="6" height="12.8" fill="url(#gblack)" stroke="#fff" stroke-width="1"/>
<rect x="113.09" y="3096.7" width="6" height="5.8" fill="url(#gblue)" stroke="#fff" stroke-width="1"/>
<rect x="120.09" y="3068.7" width="6" height="33.8" fill="url(#gblack)" stroke="#fff" stroke-width="1"/>
<rect x="142.62" y="3070.7" width="6" height="31.8" fill="url(#gblack)" stroke="#fff" stroke-width="1"/>
<rect x="158.15" y="3099.7" width="6" height="2.8" fill="url(#gblue)" stroke="#fff" stroke-width="1"/>
<rect x="165.15" y="3080.7" width="6" height="21.8" fill="url(#gblack)" stroke="#fff" stroke-width="1"/>
<rect x="180.68" y="3102.5" width="6" height="2.8" fill="url(#gblue)" stroke="#fff" stroke-width="1"/>
<rect x="187.68" y="3080.7" width="6" height="21.8" fill="url(#gblack)" stroke="#fff" stroke-width="1"/>
<rect x="202.71" y="3101" width="7" height="3" fill="#fff"/>
<rect x="203.71" y="3102.7" width="5" height="0.9" fill="#3f78b3"/>
<rect x="210.21" y="3102.5" width="6" height="37.8" fill="url(#gblack)" stroke="#fff" stroke-width="1"/>
<rect x="225.74" y="3102.5" width="6" height="2.8" fill="url(#gblue)" stroke="#fff" stroke-width="1"/>
<rect x="232.74" y="3060.7" width="6" height="41.8" fill="url(#gblack)" stroke="#fff" stroke-width="1"/>
<rect x="247.77" y="3101" width="7" height="3" fill="#fff"/>
<rect x="248.77" y="3102.7" width="5" height="0.9" fill="#3f78b3"/>
<rect x="255.27" y="3102.5" width="6" height="13.8" fill="url(#gblack)" stroke="#fff" stroke-width="1"/>
<rect x="270.8" y="3102.5" width="6" height="8.8" fill="url(#gblue)" stroke="#fff" stroke-width="1"/>
<rect x="277.8" y="3102.5" width="6" height="5.8" fill="url(#gblack)" stroke="#fff" stroke-width="1"/>
<rect x="293.33" y="3102.5" width="6" height="2.8" fill="url(#gblue)" stroke="#fff" stroke-width="1"/>
<rect x="300.33" y="3087.7" width="6" height="14.8" fill="url(#gblack)" stroke="#fff" stroke-width="1"/>
<rect x="315.86" y="3092.7" width="6" height="9.8" fill="url(#gblue)" stroke="#fff" stroke-width="1"/>
<rect x="322.86" y="3102.5" width="6" height="2.8" fill="url(#gblack)" stroke="#fff" stroke-width="1"/>
<rect x="338.39" y="3087.7" width="6" height="14.8" fill="url(#gblue)" stroke="#fff" stroke-width="1"/>
<rect x="345.39" y="3083.7" width="6" height="18.8" fill="url(#gblack)" stroke="#fff" stroke-width="1"/>
<rect x="360.92" y="3067.7" width="6" height="34.8" fill="url(#gblue)" stroke="#fff" stroke-width="1"/>
<rect x="367.92" y="3030.7" width="6" height="71.8" fill="url(#gblack)" stroke="#fff" stroke-width="1"/>
<rect x="383.45" y="3084.7" width="6" height="17.8" fill="url(#gblue)" stroke="#fff" stroke-width="1"/>
<rect x="390.45" y="3053.7" width="6" height="48.8" fill="url(#gblack)" stroke="#fff" stroke-width="1"/>
<rect x="405.98" y="3102.5" width="6" height="2.8" fill="url(#gblue)" stroke="#fff" stroke-width="1"/>
<rect x="412.98" y="3093.7" width="6" height="8.8" fill="url(#gblack)" stroke="#fff" stroke-width="1"/>
<rect x="428.01" y="3101" width="7" height="3" fill="#fff"/>
<rect x="429.01" y="3101.5" width="5" height="0.9" fill="#3f78b3"/>
<rect x="435.51" y="3075.7" width="6" height="26.8" fill="url(#gblack)" stroke="#fff" stroke-width="1"/>
<rect x="451.04" y="3102.5" width="6" height="15.8" fill="url(#gblue)" stroke="#fff" stroke-width="1"/>
<rect x="458.04" y="3102.5" width="6" height="33.8" fill="url(#gblack)" stroke="#fff" stroke-width="1"/>
<rect x="473.56" y="3087.7" width="6" height="14.8" fill="url(#gblue)" stroke="#fff" stroke-width="1"/>
<rect x="480.56" y="3055.7" width="6" height="46.8" fill="url(#gblack)" stroke="#fff" stroke-width="1"/>
<rect x="496.09" y="3094.7" width="6" height="7.8" fill="url(#gblue)" stroke="#fff" stroke-width="1"/>
<rect x="503.09" y="3077.7" width="6" height="24.8" fill="url(#gblack)" stroke="#fff" stroke-width="1"/>
<rect x="518.12" y="3101" width="7" height="3" fill="#fff"/>
<rect x="519.12" y="3102.7" width="5" height="0.9" fill="#3f78b3"/>
<rect x="525.62" y="3068.7" width="6" height="33.8" fill="url(#gblack)" stroke="#fff" stroke-width="1"/>
<rect x="540.65" y="3101" width="7" height="3" fill="#fff"/>
<rect x="541.65" y="3101.5" width="5" height="0.9" fill="#3f78b3"/>
<rect x="548.15" y="3080.7" width="6" height="21.8" fill="url(#gblack)" stroke="#fff" stroke-width="1"/>
<rect x="570.68" y="3095.7" width="6" height="6.8" fill="url(#gblack)" stroke="#fff" stroke-width="1"/>
<rect x="586.21" y="3090.7" width="6" height="11.8" fill="url(#gblue)" stroke="#fff" stroke-width="1"/>
<rect x="593.21" y="3069.7" width="6" height="32.8" fill="url(#gblack)" stroke="#fff" stroke-width="1"/>
<rect x="608.74" y="3096.7" width="6" height="5.8" fill="url(#gblue)" stroke="#fff" stroke-width="1"/>
<rect x="615.74" y="3044.7" width="6" height="57.8" fill="url(#gblack)" stroke="#fff" stroke-width="1"/>
<rect x="631.27" y="3102.5" width="6" height="4.8" fill="url(#gblue)" stroke="#fff" stroke-width="1"/>
<rect x="638.27" y="3084.7" width="6" height="17.8" fill="url(#gblack)" stroke="#fff" stroke-width="1"/>
<rect x="653.8" y="3073.7" width="6" height="28.8" fill="url(#gblue)" stroke="#fff" stroke-width="1"/>
<rect x="660.8" y="3077.7" width="6" height="24.8" fill="url(#gblack)" stroke="#fff" stroke-width="1"/>
<rect x="676.33" y="3091.7" width="6" height="10.8" fill="url(#gblue)" stroke="#fff" stroke-width="1"/>
<rect x="683.33" y="3072.7" width="6" height="29.8" fill="url(#gblack)" stroke="#fff" stroke-width="1"/>
<rect x="698.86" y="3093.7" width="6" height="8.8" fill="url(#gblue)" stroke="#fff" stroke-width="1"/>
<rect x="705.86" y="3077.7" width="6" height="24.8" fill="url(#gblack)" stroke="#fff" stroke-width="1"/>
<rect x="728.39" y="3084.7" width="6" height="17.8" fill="url(#gblack)" stroke="#fff" stroke-width="1"/>
<rect x="743.92" y="3102.5" width="6" height="5.8" fill="url(#gblue)" stroke="#fff" stroke-width="1"/>
<rect x="750.92" y="3093.7" width="6" height="8.8" fill="url(#gblack)" stroke="#fff" stroke-width="1"/>
<rect x="766.45" y="3102.5" width="6" height="3.8" fill="url(#gblue)" stroke="#fff" stroke-width="1"/>
<rect x="773.45" y="3097.7" width="6" height="4.8" fill="url(#gblack)" stroke="#fff" stroke-width="1"/>
<rect x="788.98" y="3102.5" width="6" height="12.8" fill="url(#gblue)" stroke="#fff" stroke-width="1"/>
<rect x="795.98" y="3102.5" width="6" height="17.8" fill="url(#gblack)" stroke="#fff" stroke-width="1"/>
<rect x="811.51" y="3102.5" width="6" height="8.8" fill="url(#gblue)" stroke="#fff" stroke-width="1"/>
<rect x="818.51" y="3102.5" width="6" height="22.8" fill="url(#gblack)" stroke="#fff" stroke-width="1"/>
<rect x="834.04" y="3102.5" width="6" height="6.8" fill="url(#gblue)" stroke="#fff" stroke-width="1"/>
<rect x="841.04" y="3102.5" width="6" height="18.8" fill="url(#gblack)" stroke="#fff" stroke-width="1"/>
<rect x="856.56" y="3098.7" width="6" height="3.8" fill="url(#gblue)" stroke="#fff" stroke-width="1"/>
<rect x="863.56" y="3055.7" width="6" height="46.8" fill="url(#gblack)" stroke="#fff" stroke-width="1"/>
<rect x="879.09" y="3093.7" width="6" height="8.8" fill="url(#gblue)" stroke="#fff" stroke-width="1"/>
<rect x="886.09" y="3067.7" width="6" height="34.8" fill="url(#gblack)" stroke="#fff" stroke-width="1"/>
<rect x="908.62" y="3102.5" width="6" height="7.8" fill="url(#gblack)" stroke="#fff" stroke-width="1"/>
<rect x="924.15" y="3102.5" width="6" height="3.8" fill="url(#gblue)" stroke="#fff" stroke-width="1"/>
<rect x="931.15" y="3059.7" width="6" height="42.8" fill="url(#gblack)" stroke="#fff" stroke-width="1"/>
<rect x="953.68" y="3086.7" width="6" height="15.8" fill="url(#gblack)" stroke="#fff" stroke-width="1"/>
<rect x="969.21" y="3079.7" width="6" height="22.8" fill="url(#gblue)" stroke="#fff" stroke-width="1"/>
<rect x="976.21" y="3058.7" width="6" height="43.8" fill="url(#gblack)" stroke="#fff" stroke-width="1"/>
<rect x="991.74" y="3102.5" width="6" height="10.8" fill="url(#gblue)" stroke="#fff" stroke-width="1"/>
<rect x="998.74" y="3102.5" width="6" height="31.8" fill="url(#gblack)" stroke="#fff" stroke-width="1"/>
<rect x="1014.27" y="3102.5" width="6" height="13.8" fill="url(#gblue)" stroke="#fff" stroke-width="1"/>
<rect x="1021.27" y="3090.7" width="6" height="11.8" fill="url(#gblack)" stroke="#fff" stroke-width="1"/>
<rect x="1036.8" y="3096.7" width="6" height="5.8" fill="url(#gblue)" stroke="#fff" stroke-width="1"/>
<rect x="1043.8" y="3055.7" width="6" height="46.8" fill="url(#gblack)" stroke="#fff" stroke-width="1"/>
<rect x="1058.83" y="3101" width="7" height="3" fill="#fff"/>
<rect x="1059.83" y="3101.5" width="5" height="0.9" fill="#3f78b3"/>
<rect x="1066.33" y="3078.7" width="6" height="23.8" fill="url(#gblack)" stroke="#fff" stroke-width="1"/>
<rect x="1081.86" y="3102.5" width="6" height="2.8" fill="url(#gblue)" stroke="#fff" stroke-width="1"/>
<rect x="1088.86" y="3092.7" width="6" height="9.8" fill="url(#gblack)" stroke="#fff" stroke-width="1"/>
<rect x="1111.39" y="3043.7" width="6" height="58.8" fill="url(#gblack)" stroke="#fff" stroke-width="1"/>
<rect x="1126.92" y="3095.7" width="6" height="6.8" fill="url(#gblue)" stroke="#fff" stroke-width="1"/>
<rect x="1133.92" y="3088.7" width="6" height="13.8" fill="url(#gblack)" stroke="#fff" stroke-width="1"/>
<rect x="1149.45" y="3102.5" width="6" height="19.8" fill="url(#gblue)" stroke="#fff" stroke-width="1"/>
<rect x="1156.45" y="3102.5" width="6" height="69.8" fill="url(#gblack)" stroke="#fff" stroke-width="1"/>
<rect x="1171.98" y="3102.5" width="6" height="20" fill="url(#gblue)" stroke="#fff" stroke-width="1"/>
<rect x="1178.98" y="3102.5" width="6" height="19" fill="url(#gblack)" stroke="#fff" stroke-width="1"/>
<rect x="1194.51" y="3102.5" width="6" height="15" fill="url(#gblue)" stroke="#fff" stroke-width="1"/>
<rect x="1201.51" y="3102.5" width="6" height="39" fill="url(#gblack)" stroke="#fff" stroke-width="1"/>
<rect x="1217.04" y="3102.5" width="6" height="7" fill="url(#gblue)" stroke="#fff" stroke-width="1"/>
<rect x="1224.04" y="3073.5" width="6" height="29" fill="url(#gblack)" stroke="#fff" stroke-width="1"/>
<text x="100.26" y="3235.5" font-size="12.5" fill="#222" text-anchor="end" transform="rotate(-45 100.26 3235.5)">锌</text>
<text x="122.79" y="3235.5" font-size="12.5" fill="#222" text-anchor="end" transform="rotate(-45 122.79 3235.5)">豆油</text>
<text x="145.32" y="3235.5" font-size="12.5" fill="#222" text-anchor="end" transform="rotate(-45 145.32 3235.5)">PVC</text>
<text x="167.85" y="3235.5" font-size="12.5" fill="#222" text-anchor="end" transform="rotate(-45 167.85 3235.5)">尿素</text>
<text x="190.38" y="3235.5" font-size="12.5" fill="#222" text-anchor="end" transform="rotate(-45 190.38 3235.5)">2年国债</text>
<text x="212.91" y="3235.5" font-size="12.5" fill="#222" text-anchor="end" transform="rotate(-45 212.91 3235.5)">5年国债</text>
<text x="235.44" y="3235.5" font-size="12.5" fill="#222" text-anchor="end" transform="rotate(-45 235.44 3235.5)">PTA</text>
<text x="257.97" y="3235.5" font-size="12.5" fill="#222" text-anchor="end" transform="rotate(-45 257.97 3235.5)">10年国债</text>
<text x="280.5" y="3235.5" font-size="12.5" fill="#222" text-anchor="end" transform="rotate(-45 280.5 3235.5)">不锈钢</text>
<text x="303.03" y="3235.5" font-size="12.5" fill="#222" text-anchor="end" transform="rotate(-45 303.03 3235.5)">白糖</text>
<text x="325.56" y="3235.5" font-size="12.5" fill="#222" text-anchor="end" transform="rotate(-45 325.56 3235.5)">纸浆</text>
<text x="348.09" y="3235.5" font-size="12.5" fill="#222" text-anchor="end" transform="rotate(-45 348.09 3235.5)">锡</text>
<text x="370.62" y="3235.5" font-size="12.5" fill="#222" text-anchor="end" transform="rotate(-45 370.62 3235.5)">锰硅</text>
<text x="393.15" y="3235.5" font-size="12.5" fill="#222" text-anchor="end" transform="rotate(-45 393.15 3235.5)">硅铁</text>
<text x="415.68" y="3235.5" font-size="12.5" fill="#222" text-anchor="end" transform="rotate(-45 415.68 3235.5)">纯碱</text>
<text x="438.21" y="3235.5" font-size="12.5" fill="#222" text-anchor="end" transform="rotate(-45 438.21 3235.5)">橡胶</text>
<text x="460.74" y="3235.5" font-size="12.5" fill="#222" text-anchor="end" transform="rotate(-45 460.74 3235.5)">粳米</text>
<text x="483.26" y="3235.5" font-size="12.5" fill="#222" text-anchor="end" transform="rotate(-45 483.26 3235.5)">菜粕</text>
<text x="505.79" y="3235.5" font-size="12.5" fill="#222" text-anchor="end" transform="rotate(-45 505.79 3235.5)">螺纹钢</text>
<text x="528.32" y="3235.5" font-size="12.5" fill="#222" text-anchor="end" transform="rotate(-45 528.32 3235.5)">聚丙烯</text>
<text x="550.85" y="3235.5" font-size="12.5" fill="#222" text-anchor="end" transform="rotate(-45 550.85 3235.5)">LPG</text>
<text x="573.38" y="3235.5" font-size="12.5" fill="#222" text-anchor="end" transform="rotate(-45 573.38 3235.5)">铅</text>
<text x="595.91" y="3235.5" font-size="12.5" fill="#222" text-anchor="end" transform="rotate(-45 595.91 3235.5)">棕榈油</text>
<text x="618.44" y="3235.5" font-size="12.5" fill="#222" text-anchor="end" transform="rotate(-45 618.44 3235.5)">菜油</text>
<text x="640.97" y="3235.5" font-size="12.5" fill="#222" text-anchor="end" transform="rotate(-45 640.97 3235.5)">镍</text>
<text x="663.5" y="3235.5" font-size="12.5" fill="#222" text-anchor="end" transform="rotate(-45 663.5 3235.5)">甲醇</text>
<text x="686.03" y="3235.5" font-size="12.5" fill="#222" text-anchor="end" transform="rotate(-45 686.03 3235.5)">豆粕</text>
<text x="708.56" y="3235.5" font-size="12.5" fill="#222" text-anchor="end" transform="rotate(-45 708.56 3235.5)">塑料</text>
<text x="731.09" y="3235.5" font-size="12.5" fill="#222" text-anchor="end" transform="rotate(-45 731.09 3235.5)">焦煤</text>
<text x="753.62" y="3235.5" font-size="12.5" fill="#222" text-anchor="end" transform="rotate(-45 753.62 3235.5)">鸡蛋</text>
<text x="776.15" y="3235.5" font-size="12.5" fill="#222" text-anchor="end" transform="rotate(-45 776.15 3235.5)">焦炭</text>
<text x="798.68" y="3235.5" font-size="12.5" fill="#222" text-anchor="end" transform="rotate(-45 798.68 3235.5)">上证50</text>
<text x="821.21" y="3235.5" font-size="12.5" fill="#222" text-anchor="end" transform="rotate(-45 821.21 3235.5)">沪深300</text>
<text x="843.74" y="3235.5" font-size="12.5" fill="#222" text-anchor="end" transform="rotate(-45 843.74 3235.5)">中证500</text>
<text x="866.26" y="3235.5" font-size="12.5" fill="#222" text-anchor="end" transform="rotate(-45 866.26 3235.5)">铁矿石</text>
<text x="888.79" y="3235.5" font-size="12.5" fill="#222" text-anchor="end" transform="rotate(-45 888.79 3235.5)">热轧卷板</text>
<text x="911.32" y="3235.5" font-size="12.5" fill="#222" text-anchor="end" transform="rotate(-45 911.32 3235.5)">燃油</text>
<text x="933.85" y="3235.5" font-size="12.5" fill="#222" text-anchor="end" transform="rotate(-45 933.85 3235.5)">玻璃</text>
<text x="956.38" y="3235.5" font-size="12.5" fill="#222" text-anchor="end" transform="rotate(-45 956.38 3235.5)">乙二醇</text>
<text x="978.91" y="3235.5" font-size="12.5" fill="#222" text-anchor="end" transform="rotate(-45 978.91 3235.5)">苯乙烯</text>
<text x="1001.44" y="3235.5" font-size="12.5" fill="#222" text-anchor="end" transform="rotate(-45 1001.44 3235.5)">铜</text>
<text x="1023.97" y="3235.5" font-size="12.5" fill="#222" text-anchor="end" transform="rotate(-45 1023.97 3235.5)">玉米淀粉</text>
<text x="1046.5" y="3235.5" font-size="12.5" fill="#222" text-anchor="end" transform="rotate(-45 1046.5 3235.5)">红枣</text>
<text x="1069.03" y="3235.5" font-size="12.5" fill="#222" text-anchor="end" transform="rotate(-45 1069.03 3235.5)">棉花</text>
<text x="1091.56" y="3235.5" font-size="12.5" fill="#222" text-anchor="end" transform="rotate(-45 1091.56 3235.5)">玉米</text>
<text x="1114.09" y="3235.5" font-size="12.5" fill="#222" text-anchor="end" transform="rotate(-45 1114.09 3235.5)">沥青</text>
<text x="1136.62" y="3235.5" font-size="12.5" fill="#222" text-anchor="end" transform="rotate(-45 1136.62 3235.5)">豆二</text>
<text x="1159.15" y="3235.5" font-size="12.5" fill="#222" text-anchor="end" transform="rotate(-45 1159.15 3235.5)">黄金</text>
<text x="1181.68" y="3235.5" font-size="12.5" fill="#222" text-anchor="end" transform="rotate(-45 1181.68 3235.5)">铝</text>
<text x="1204.21" y="3235.5" font-size="12.5" fill="#222" text-anchor="end" transform="rotate(-45 1204.21 3235.5)">白银</text>
<text x="1226.74" y="3235.5" font-size="12.5" fill="#222" text-anchor="end" transform="rotate(-45 1226.74 3235.5)">豆一</text>
<circle cx="582.7" cy="3302.7" r="6" fill="url(#gblue)"/>
<text x="596" y="3307" font-size="12" fill="#333" font-weight="bold">涨跌幅</text>
<circle cx="661" cy="3302.7" r="6" fill="url(#gblack)"/>
<text x="674" y="3307" font-size="12" fill="#333" font-weight="bold">Z分(30日)</text>
<path d="M86 3220.5H1235" stroke="#c0d0e0" stroke-width="1" fill="none"/>
<text x="653" y="3377" font-size="18" fill="#333" text-anchor="middle">沉淀资金</text>
<path d="M108.5 3405.5H1291.5" stroke="#e0e0e0" stroke-width="1" fill="none"/>
<path d="M108.5 3475.5H1291.5" stroke="#e0e0e0" stroke-width="1" fill="none"/>
<path d="M108.5 3543.5H1291.5" stroke="#e0e0e0" stroke-width="1" fill="none"/>
<path d="M108.5 3612.5H1291.5" stroke="#e0e0e0" stroke-width="1" fill="none"/>
<text x="94" y="3409.5" font-size="12" fill="#000" text-anchor="end">2000亿元</text>
<text x="94" y="3479.5" font-size="12" fill="#000" text-anchor="end">1500亿元</text>
<text x="94" y="3547.5" font-size="12" fill="#000" text-anchor="end">1000亿元</text>
<text x="94" y="3616.5" font-size="12" fill="#000" text-anchor="end">500亿元</text>
<text x="94" y="3684.5" font-size="12" fill="#000" text-anchor="end">0亿元</text>
<text x="31" y="3543" font-size="12" fill="#000" text-anchor="middle" transform="rotate(-90 31 3543)">金额</text>
<rect x="114.1" y="3666.5" width="12" height="14" fill="url(#gblue)" stroke="#fff" stroke-width="1"/>
<rect x="137.29" y="3624.5" width="12" height="56" fill="url(#gblue)" stroke="#fff" stroke-width="1"/>
<rect x="160.49" y="3653.5" width="12" height="27" fill="url(#gblue)" stroke="#fff" stroke-width="1"/>
<rect x="183.69" y="3672.5" width="12" height="8" fill="url(#gblue)" stroke="#fff" stroke-width="1"/>
<rect x="206.88" y="3567.5" width="12" height="113" fill="url(#gblue)" stroke="#fff" stroke-width="1"/>
<rect x="230.08" y="3558.5" width="12" height="122" fill="url(#gblue)" stroke="#fff" stroke-width="1"/>
<rect x="253.27" y="3626.5" width="12" height="54" fill="url(#gblue)" stroke="#fff" stroke-width="1"/>
<rect x="276.47" y="3474" width="12" height="206.5" fill="url(#gblue)" stroke="#fff" stroke-width="1"/>
<rect x="299.67" y="3672.5" width="12" height="8" fill="url(#gblue)" stroke="#fff" stroke-width="1"/>
<rect x="322.86" y="3644.5" width="12" height="36" fill="url(#gblue)" stroke="#fff" stroke-width="1"/>
<rect x="346.06" y="3668.5" width="12" height="12" fill="url(#gblue)" stroke="#fff" stroke-width="1"/>
<rect x="369.25" y="3666.5" width="12" height="14" fill="url(#gblue)" stroke="#fff" stroke-width="1"/>
<rect x="392.45" y="3671.5" width="12" height="9" fill="url(#gblue)" stroke="#fff" stroke-width="1"/>
<rect x="415.65" y="3670.5" width="12" height="10" fill="url(#gblue)" stroke="#fff" stroke-width="1"/>
<rect x="438.84" y="3629.5" width="12" height="51" fill="url(#gblue)" stroke="#fff" stroke-width="1"/>
<rect x="462.04" y="3647.5" width="12" height="33" fill="url(#gblue)" stroke="#fff" stroke-width="1"/>
<rect x="508.43" y="3659.5" width="12" height="21" fill="url(#gblue)" stroke="#fff" stroke-width="1"/>
<rect x="531.63" y="3571.5" width="12" height="109" fill="url(#gblue)" stroke="#fff" stroke-width="1"/>
<rect x="554.82" y="3659.5" width="12" height="21" fill="url(#gblue)" stroke="#fff" stroke-width="1"/>
<rect x="578.02" y="3670.5" width="12" height="10" fill="url(#gblue)" stroke="#fff" stroke-width="1"/>
<rect x="601.22" y="3672.5" width="12" height="8" fill="url(#gblue)" stroke="#fff" stroke-width="1"/>
<rect x="624.41" y="3631.5" width="12" height="49" fill="url(#gblue)" stroke="#fff" stroke-width="1"/>
<rect x="647.61" y="3648.5" width="12" height="32" fill="url(#gblue)" stroke="#fff" stroke-width="1"/>
<rect x="670.8" y="3655.5" width="12" height="25" fill="url(#gblue)" stroke="#fff" stroke-width="1"/>
<rect x="694" y="3642.5" width="12" height="38" fill="url(#gblue)" stroke="#fff" stroke-width="1"/>
<rect x="717.2" y="3607.5" width="12" height="73" fill="url(#gblue)" stroke="#fff" stroke-width="1"/>
<rect x="740.39" y="3661.5" width="12" height="19" fill="url(#gblue)" stroke="#fff" stroke-width="1"/>
<rect x="763.59" y="3669.5" width="12" height="11" fill="url(#gblue)" stroke="#fff" stroke-width="1"/>
<rect x="786.78" y="3673.5" width="12" height="7" fill="url(#gblue)" stroke="#fff" stroke-width="1"/>
<rect x="809.98" y="3669.5" width="12" height="11" fill="url(#gblue)" stroke="#fff" stroke-width="1"/>
<rect x="833.18" y="3616.5" width="12" height="64" fill="url(#gblue)" stroke="#fff" stroke-width="1"/>
<rect x="856.37" y="3547.5" width="12" height="133" fill="url(#gblue)" stroke="#fff" stroke-width="1"/>
<rect x="879.57" y="3529.5" width="12" height="151" fill="url(#gblue)" stroke="#fff" stroke-width="1"/>
<rect x="902.76" y="3576.5" width="12" height="104" fill="url(#gblue)" stroke="#fff" stroke-width="1"/>
<rect x="925.96" y="3634.5" width="12" height="46" fill="url(#gblue)" stroke="#fff" stroke-width="1"/>
<rect x="949.16" y="3667.5" width="12" height="13" fill="url(#gblue)" stroke="#fff" stroke-width="1"/>
<rect x="972.35" y="3646.5" width="12" height="34" fill="url(#gblue)" stroke="#fff" stroke-width="1"/>
<rect x="995.55" y="3663.5" width="12" height="17" fill="url(#gblue)" stroke="#fff" stroke-width="1"/>
<rect x="1018.75" y="3668.5" width="12" height="12" fill="url(#gblue)" stroke="#fff" stroke-width="1"/>
<rect x="1041.94" y="3635.5" width="12" height="45" fill="url(#gblue)" stroke="#fff" stroke-width="1"/>
<rect x="1065.14" y="3674.5" width="12" height="6" fill="url(#gblue)" stroke="#fff" stroke-width="1"/>
<rect x="1088.33" y="3677.5" width="12" height="3" fill="url(#gblue)" stroke="#fff" stroke-width="1"/>
<rect x="1111.53" y="3607.5" width="12" height="73" fill="url(#gblue)" stroke="#fff" stroke-width="1"/>
<rect x="1134.73" y="3653.5" width="12" height="27" fill="url(#gblue)" stroke="#fff" stroke-width="1"/>
<rect x="1157.92" y="3658.5" width="12" height="22" fill="url(#gblue)" stroke="#fff" stroke-width="1"/>
<rect x="1180.62" y="3679" width="13" height="3" fill="#fff"/>
<rect x="1181.62" y="3679.5" width="11" height="0.9" fill="#3f78b3"/>
<rect x="1204.31" y="3644.5" width="12" height="36" fill="url(#gblue)" stroke="#fff" stroke-width="1"/>
<rect x="1227.51" y="3662.5" width="12" height="18" fill="url(#gblue)" stroke="#fff" stroke-width="1"/>
<rect x="1250.71" y="3658.5" width="12" height="22" fill="url(#gblue)" stroke="#fff" stroke-width="1"/>
<rect x="1273.9" y="3668.5" width="12" height="12" fill="url(#gblue)" stroke="#fff" stroke-width="1"/>
<text x="123.1" y="3695.5" font-size="12.5" fill="#222" text-anchor="end" transform="rotate(-45 123.1 3695.5)">锌</text>
<text x="146.29" y="3695.5" font-size="12.5" fill="#222" text-anchor="end" transform="rotate(-45 146.29 3695.5)">豆油</text>
<text x="169.49" y="3695.5" font-size="12.5" fill="#222" text-anchor="end" transform="rotate(-45 169.49 3695.5)">PVC</text>
<text x="192.69" y="3695.5" font-size="12.5" fill="#222" text-anchor="end" transform="rotate(-45 192.69 3695.5)">尿素</text>
<text x="215.88" y="3695.5" font-size="12.5" fill="#222" text-anchor="end" transform="rotate(-45 215.88 3695.5)">2年国债</text>
<text x="239.08" y="3695.5" font-size="12.5" fill="#222" text-anchor="end" transform="rotate(-45 239.08 3695.5)">5年国债</text>
<text x="262.27" y="3695.5" font-size="12.5" fill="#222" text-anchor="end" transform="rotate(-45 262.27 3695.5)">PTA</text>
<text x="285.47" y="3695.5" font-size="12.5" fill="#222" text-anchor="end" transform="rotate(-45 285.47 3695.5)">10年国债</text>
<text x="308.67" y="3695.5" font-size="12.5" fill="#222" text-anchor="end" transform="rotate(-45 308.67 3695.5)">不锈钢</text>
<text x="331.86" y="3695.5" font-size="12.5" fill="#222" text-anchor="end" transform="rotate(-45 331.86 3695.5)">白糖</text>
<text x="355.06" y="3695.5" font-size="12.5" fill="#222" text-anchor="end" transform="rotate(-45 355.06 3695.5)">纸浆</text>
<text x="378.25" y="3695.5" font-size="12.5" fill="#222" text-anchor="end" transform="rotate(-45 378.25 3695.5)">锡</text>
<text x="401.45" y="3695.5" font-size="12.5" fill="#222" text-anchor="end" transform="rotate(-45 401.45 3695.5)">锰硅</text>
<text x="424.65" y="3695.5" font-size="12.5" fill="#222" text-anchor="end" transform="rotate(-45 424.65 3695.5)">硅铁</text>
<text x="447.84" y="3695.5" font-size="12.5" fill="#222" text-anchor="end" transform="rotate(-45 447.84 3695.5)">纯碱</text>
<text x="471.04" y="3695.5" font-size="12.5" fill="#222" text-anchor="end" transform="rotate(-45 471.04 3695.5)">橡胶</text>
<text x="494.24" y="3695.5" font-size="12.5" fill="#222" text-anchor="end" transform="rotate(-45 494.24 3695.5)">粳米</text>
<text x="517.43" y="3695.5" font-size="12.5" fill="#222" text-anchor="end" transform="rotate(-45 517.43 3695.5)">菜粕</text>
<text x="540.63" y="3695.5" font-size="12.5" fill="#222" text-anchor="end" transform="rotate(-45 540.63 3695.5)">螺纹钢</text>
<text x="563.82" y="3695.5" font-size="12.5" fill="#222" text-anchor="end" transform="rotate(-45 563.82 3695.5)">聚丙烯</text>
<text x="587.02" y="3695.5" font-size="12.5" fill="#222" text-anchor="end" transform="rotate(-45 587.02 3695.5)">LPG</text>
<text x="610.22" y="3695.5" font-size="12.5" fill="#222" text-anchor="end" transform="rotate(-45 610.22 3695.5)">铅</text>
<text x="633.41" y="3695.5" font-size="12.5" fill="#222" text-anchor="end" transform="rotate(-45 633.41 3695.5)">棕榈油</text>
<text x="656.61" y="3695.5" font-size="12.5" fill="#222" text-anchor="end" transform="rotate(-45 656.61 3695.5)">菜油</text>
<text x="679.8" y="3695.5" font-size="12.5" fill="#222" text-anchor="end" transform="rotate(-45 679.8 3695.5)">镍</text>
<text x="703" y="3695.5" font-size="12.5" fill="#222" text-anchor="end" transform="rotate(-45 703 3695.5)">甲醇</text>
<text x="726.2" y="3695.5" font-size="12.5" fill="#222" text-anchor="end" transform="rotate(-45 726.2 3695.5)">豆粕</text>
<text x="749.39" y="3695.5" font-size="12.5" fill="#222" text-anchor="end" transform="rotate(-45 749.39 3695.5)">塑料</text>
<text x="772.59" y="3695.5" font-size="12.5" fill="#222" text-anchor="end" transform="rotate(-45 772.59 3695.5)">焦煤</text>
<text x="795.78" y="3695.5" font-size="12.5" fill="#222" text-anchor="end" transform="rotate(-45 795.78 3695.5)">鸡蛋</text>
<text x="818.98" y="3695.5" font-size="12.5" fill="#222" text-anchor="end" transform="rotate(-45 818.98 3695.5)">焦炭</text>
<text x="842.18" y="3695.5" font-size="12.5" fill="#222" text-anchor="end" transform="rotate(-45 842.18 3695.5)">上证50</text>
<text x="865.37" y="3695.5" font-size="12.5" fill="#222" text-anchor="end" transform="rotate(-45 865.37 3695.5)">沪深300</text>
<text x="888.57" y="3695.5" font-size="12.5" fill="#222" text-anchor="end" transform="rotate(-45 888.57 3695.5)">中证500</text>
<text x="911.76" y="3695.5" font-size="12.5" fill="#222" text-anchor="end" transform="rotate(-45 911.76 3695.5)">铁矿石</text>
<text x="934.96" y="3695.5" font-size="12.5" fill="#222" text-anchor="end" transform="rotate(-45 934.96 3695.5)">热轧卷板</text>
<text x="958.16" y="3695.5" font-size="12.5" fill="#222" text-anchor="end" transform="rotate(-45 958.16 3695.5)">燃油</text>
<text x="981.35" y="3695.5" font-size="12.5" fill="#222" text-anchor="end" transform="rotate(-45 981.35 3695.5)">玻璃</text>
<text x="1004.55" y="3695.5" font-size="12.5" fill="#222" text-anchor="end" transform="rotate(-45 1004.55 3695.5)">乙二醇</text>
<text x="1027.75" y="3695.5" font-size="12.5" fill="#222" text-anchor="end" transform="rotate(-45 1027.75 3695.5)">苯乙烯</text>
<text x="1050.94" y="3695.5" font-size="12.5" fill="#222" text-anchor="end" transform="rotate(-45 1050.94 3695.5)">铜</text>
<text x="1074.14" y="3695.5" font-size="12.5" fill="#222" text-anchor="end" transform="rotate(-45 1074.14 3695.5)">玉米淀粉</text>
<text x="1097.33" y="3695.5" font-size="12.5" fill="#222" text-anchor="end" transform="rotate(-45 1097.33 3695.5)">红枣</text>
<text x="1120.53" y="3695.5" font-size="12.5" fill="#222" text-anchor="end" transform="rotate(-45 1120.53 3695.5)">棉花</text>
<text x="1143.73" y="3695.5" font-size="12.5" fill="#222" text-anchor="end" transform="rotate(-45 1143.73 3695.5)">玉米</text>
<text x="1166.92" y="3695.5" font-size="12.5" fill="#222" text-anchor="end" transform="rotate(-45 1166.92 3695.5)">沥青</text>
<text x="1190.12" y="3695.5" font-size="12.5" fill="#222" text-anchor="end" transform="rotate(-45 1190.12 3695.5)">豆二</text>
<text x="1213.31" y="3695.5" font-size="12.5" fill="#222" text-anchor="end" transform="rotate(-45 1213.31 3695.5)">黄金</text>
<text x="1236.51" y="3695.5" font-size="12.5" fill="#222" text-anchor="end" transform="rotate(-45 1236.51 3695.5)">铝</text>
<text x="1259.71" y="3695.5" font-size="12.5" fill="#222" text-anchor="end" transform="rotate(-45 1259.71 3695.5)">白银</text>
<text x="1282.9" y="3695.5" font-size="12.5" fill="#222" text-anchor="end" transform="rotate(-45 1282.9 3695.5)">豆一</text>
<path d="M108.5 3680.5H1291.5" stroke="#c0d0e0" stroke-width="1" fill="none"/>
<path d="M1286.5 271.5L1295.5 262.5M1290.5 271.5L1295.5 266.5" stroke="#777" stroke-width="1" fill="none"/>
</svg>
<div class="t1">冠通基本面量化数据日报</div>
<div class="t2">期货市场资金情绪</div>
<div class="h1">收盘综述</div>
<div class="tl" style="top:112.5px">截止<span class="d">1</span>月<span class="d">4</span>日收盘，国内期货主力合约有涨有跌。燃料油、低硫燃料油（<span class="a">LU</span>）跌超<span class="d">6</span><span class="a">%</span>，<span class="a">SC</span>原油跌超<span class="d">5</span><span class="a">%</span>，沪铝、沥青、焦煤、硅铁跌超<span class="d">2</span><span class="a">%</span>。涨幅方面，</div>
<div class="tl" style="top:136px">淀粉涨超<span class="d">2</span><span class="a">%</span>，橡胶、不锈钢（<span class="a">SS</span>）、苹果、纯碱、<span class="d">20</span>号胶（<span class="a">NR</span>）、玉米涨超<span class="d">1</span><span class="a">.</span><span class="d">5</span><span class="a">%</span>。沪深<span class="d">300</span>股指期货（<span class="a">IF</span>）主力合约跌<span class="d">0</span><span class="a">.</span><span class="d">06</span><span class="a">%</span>，上证<span class="d">50</span>股指期货（<span class="a">I</span></div>
<div class="tl" style="top:159.5px"><span class="a">H</span>）主力合约涨<span class="d">0</span><span class="a">.</span><span class="d">11</span><span class="a">%</span>，中证<span class="d">500</span>股指期货（<span class="a">IC</span>）主力合约跌<span class="d">0</span><span class="a">.</span><span class="d">16</span><span class="a">%</span>，中证<span class="d">1000</span>股指期货（<span class="a">IM</span>）主力合约跌<span class="d">0</span><span class="a">.</span><span class="d">18</span><span class="a">%</span>。<span class="d">2</span>年期国债期货（<span class="a">TS</span>）主力合约涨<span class="d">0</span><span class="a">.</span><span class="d">0</span></div>
<div class="tl" style="top:183px"><span class="d">6</span><span class="a">%</span>，<span class="d">5</span>年期国债期货（<span class="a">TF</span>）主力合约涨<span class="d">0</span><span class="a">.</span><span class="d">14</span><span class="a">%</span>，<span class="d">10</span>年期国债期货（<span class="a">T</span>）主力合约涨<span class="d">0</span><span class="a">.</span><span class="d">22</span><span class="a">%</span>。</div>
<div class="tl" style="top:206.5px">资金流向截至<span class="d">15</span><span class="a">:</span><span class="d">15</span>，国内期货主力合约资金流入方面，沪金<span class="d">2304</span>流入<span class="d">9</span><span class="a">.</span><span class="d">79</span>亿，原油<span class="d">2303</span>流入<span class="d">8</span><span class="a">.</span><span class="d">64</span>亿，燃油<span class="d">2305</span>流入<span class="d">6</span><span class="a">.</span><span class="d">29</span>亿；资金流出方面，沪深<span class="d">23</span></div>
<div class="tl" style="top:230px"><span class="d">01</span>流出<span class="d">34</span><span class="a">.</span><span class="d">46</span>亿，中证<span class="d">2301</span>流出<span class="d">21</span><span class="a">.</span><span class="d">31</span>亿，中证<span class="d">1000</span><span class="a"> </span><span class="d">2301</span>流出<span class="d">13</span><span class="a">.</span><span class="d">93</span>亿。</div>
<div class="dl" style="top:3775.5px;left:208px">本报告中的信息均来源于公开资料，我公司对这些信息的准确性和完整性不作任何保证。报告中的内容和意见仅供参考，并</div>
<div class="dl" style="top:3802.5px;left:168px">不构成对所述品种买卖的出价或征价。我公司及其雇员对使用本报告及其内容所引发的任何直接或间接损失概不负责。本报告仅</div>
<div class="dl" style="top:3829.5px;left:168px">向特定客户传送，版权归冠通期货所有。未经我公司书面许可，任何机构和个人均不得以任何形式翻版、复制、引用或转载。</div>
<div class="cal c1">免责声明</div>
<div class="cal c2">分析师</div>
<div class="an" style="left:207px">周智诚</div>
<div class="an" style="left:339.5px;letter-spacing:0.4px">执业资格证号F3082617/Z0016177</div>
</body></html>
